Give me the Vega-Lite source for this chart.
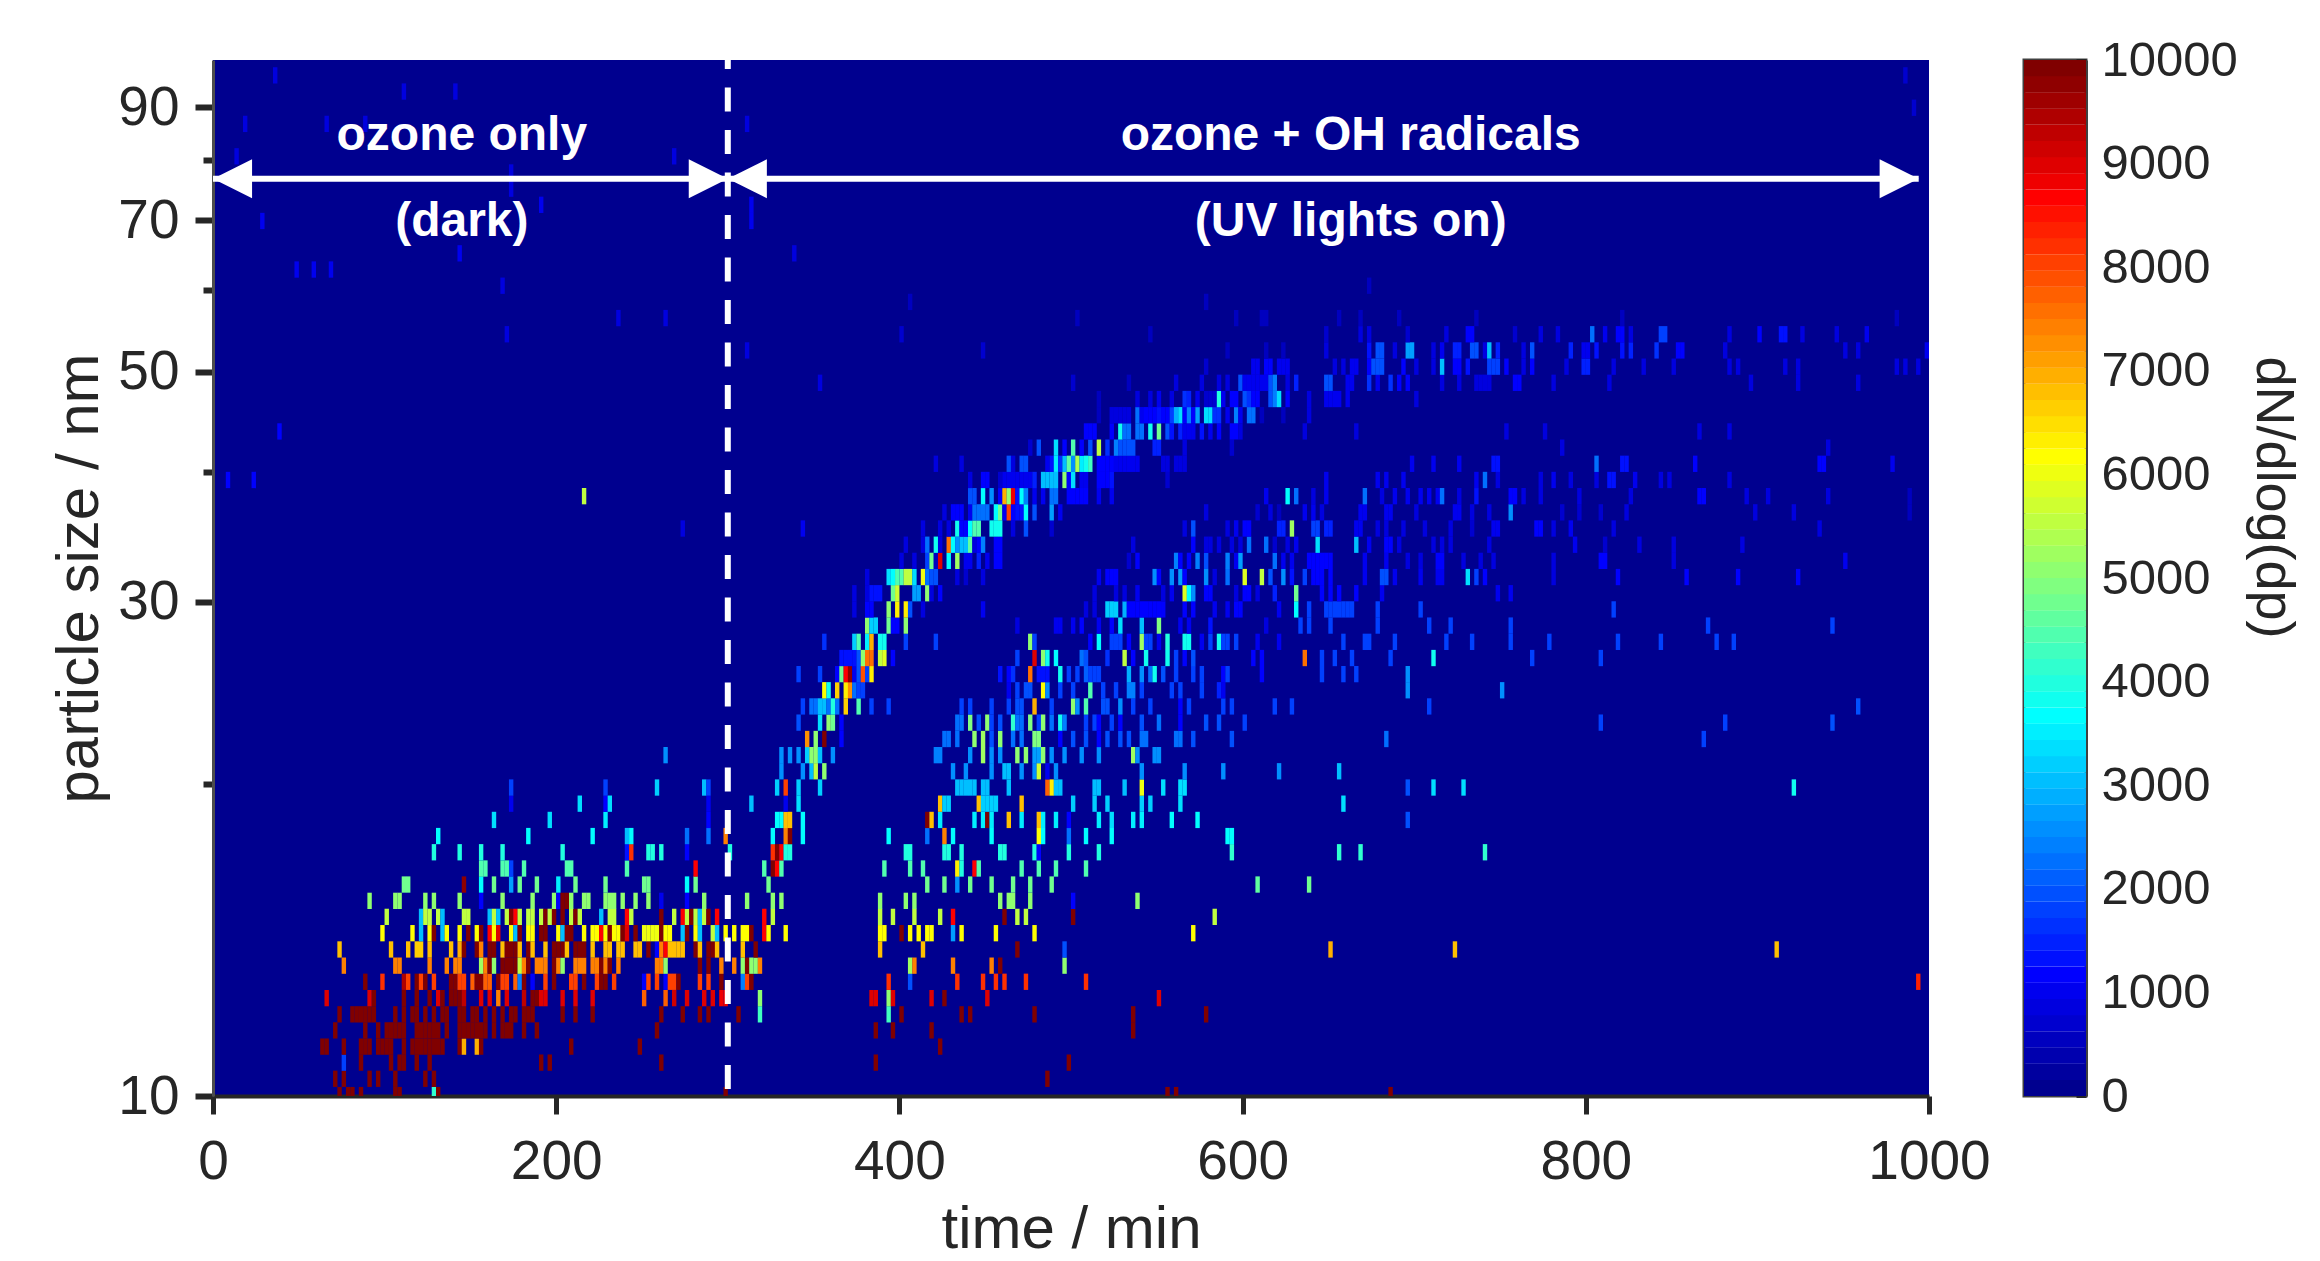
{"$schema":"https://vega.github.io/schema/vega-lite/v6.json","background":"white","padding":{"left":49,"top":34,"right":0,"bottom":0},"config":{"view":{"stroke":null},"axis":{"labelFont":"Liberation Sans","titleFont":"Liberation Sans","labelColor":"#262626","titleColor":"#262626","grid":false}},"datasets":{"cells":[
{"t":73.75,"d":10.02,"v":9950},{"t":78.75,"d":10.02,"v":9950},{"t":81.25,"d":10.02,"v":9950},{"t":86.25,"d":10.02,"v":9950},{"t":106.25,"d":10.02,"v":9950},{"t":108.75,"d":10.02,"v":9950},{"t":128.75,"d":10.02,"v":4200},{"t":131.25,"d":10.02,"v":9950},{"t":298.75,"d":10.02,"v":9950},{"t":556.25,"d":10.02,"v":9950},{"t":561.25,"d":10.02,"v":9950},{"t":686.25,"d":10.02,"v":9950},
{"t":71.25,"d":10.39,"v":9950},{"t":76.25,"d":10.39,"v":9950},{"t":91.25,"d":10.39,"v":9950},{"t":96.25,"d":10.39,"v":9950},{"t":106.25,"d":10.39,"v":9950},{"t":123.75,"d":10.39,"v":9950},{"t":128.75,"d":10.39,"v":9950},{"t":486.25,"d":10.39,"v":9950},
{"t":76.25,"d":10.77,"v":1750},{"t":86.25,"d":10.77,"v":9950},{"t":103.75,"d":10.77,"v":9950},{"t":108.75,"d":10.77,"v":9950},{"t":111.25,"d":10.77,"v":9950},{"t":118.75,"d":10.77,"v":9950},{"t":126.25,"d":10.77,"v":9950},{"t":191.25,"d":10.77,"v":9950},{"t":196.25,"d":10.77,"v":9950},{"t":261.25,"d":10.77,"v":9950},{"t":386.25,"d":10.77,"v":9950},{"t":498.75,"d":10.77,"v":9950},
{"t":63.75,"d":11.16,"v":9950},{"t":66.25,"d":11.16,"v":9950},{"t":76.25,"d":11.16,"v":9950},{"t":86.25,"d":11.16,"v":9950},{"t":88.75,"d":11.16,"v":9950},{"t":91.25,"d":11.16,"v":9950},{"t":96.25,"d":11.16,"v":9950},{"t":98.75,"d":11.16,"v":9950},{"t":101.25,"d":11.16,"v":9950},{"t":103.75,"d":11.16,"v":9950},{"t":111.25,"d":11.16,"v":9950},{"t":116.25,"d":11.16,"v":9950},{"t":118.75,"d":11.16,"v":9950},{"t":121.25,"d":11.16,"v":9950},{"t":123.75,"d":11.16,"v":9950},{"t":126.25,"d":11.16,"v":9950},{"t":128.75,"d":11.16,"v":9950},{"t":131.25,"d":11.16,"v":9950},{"t":133.75,"d":11.16,"v":9950},{"t":143.75,"d":11.16,"v":9950},{"t":146.25,"d":11.16,"v":6900},{"t":153.75,"d":11.16,"v":6900},{"t":156.25,"d":11.16,"v":9950},{"t":208.75,"d":11.16,"v":9950},{"t":248.75,"d":11.16,"v":9950},{"t":423.75,"d":11.16,"v":9950},
{"t":71.25,"d":11.57,"v":9950},{"t":88.75,"d":11.57,"v":9950},{"t":96.25,"d":11.57,"v":9950},{"t":101.25,"d":11.57,"v":9950},{"t":103.75,"d":11.57,"v":9950},{"t":106.25,"d":11.57,"v":9950},{"t":108.75,"d":11.57,"v":9950},{"t":111.25,"d":11.57,"v":9950},{"t":118.75,"d":11.57,"v":9950},{"t":121.25,"d":11.57,"v":9950},{"t":123.75,"d":11.57,"v":9950},{"t":126.25,"d":11.57,"v":9950},{"t":128.75,"d":11.57,"v":9950},{"t":131.25,"d":11.57,"v":9950},{"t":136.25,"d":11.57,"v":9950},{"t":143.75,"d":11.57,"v":9950},{"t":146.25,"d":11.57,"v":9950},{"t":148.75,"d":11.57,"v":9950},{"t":151.25,"d":11.57,"v":9950},{"t":153.75,"d":11.57,"v":9950},{"t":156.25,"d":11.57,"v":9950},{"t":158.75,"d":11.57,"v":9950},{"t":163.75,"d":11.57,"v":9950},{"t":168.75,"d":11.57,"v":9950},{"t":171.25,"d":11.57,"v":9950},{"t":173.75,"d":11.57,"v":9950},{"t":181.25,"d":11.57,"v":9950},{"t":188.75,"d":11.57,"v":9950},{"t":258.75,"d":11.57,"v":9950},{"t":386.25,"d":11.57,"v":9950},{"t":396.25,"d":11.57,"v":9950},{"t":418.75,"d":11.57,"v":9950},{"t":536.25,"d":11.57,"v":9950},
{"t":73.75,"d":11.99,"v":9950},{"t":81.25,"d":11.99,"v":9950},{"t":83.75,"d":11.99,"v":9950},{"t":86.25,"d":11.99,"v":9950},{"t":88.75,"d":11.99,"v":9950},{"t":91.25,"d":11.99,"v":9950},{"t":93.75,"d":11.99,"v":9950},{"t":106.25,"d":11.99,"v":9950},{"t":111.25,"d":11.99,"v":9950},{"t":116.25,"d":11.99,"v":9950},{"t":118.75,"d":11.99,"v":9950},{"t":123.75,"d":11.99,"v":9950},{"t":128.75,"d":11.99,"v":9950},{"t":133.75,"d":11.99,"v":9950},{"t":136.25,"d":11.99,"v":9950},{"t":143.75,"d":11.99,"v":9950},{"t":146.25,"d":11.99,"v":9950},{"t":151.25,"d":11.99,"v":9950},{"t":153.75,"d":11.99,"v":9950},{"t":158.75,"d":11.99,"v":9950},{"t":163.75,"d":11.99,"v":9950},{"t":168.75,"d":11.99,"v":9950},{"t":173.75,"d":11.99,"v":9950},{"t":176.25,"d":11.99,"v":9950},{"t":181.25,"d":11.99,"v":9950},{"t":183.75,"d":11.99,"v":9950},{"t":186.25,"d":11.99,"v":9950},{"t":203.75,"d":11.99,"v":9950},{"t":211.25,"d":11.99,"v":9950},{"t":221.25,"d":11.99,"v":9950},{"t":261.25,"d":11.99,"v":9950},{"t":273.75,"d":11.99,"v":9950},{"t":283.75,"d":11.99,"v":9950},{"t":288.75,"d":11.99,"v":9950},{"t":306.25,"d":11.99,"v":9950},{"t":318.75,"d":11.99,"v":4300},{"t":393.75,"d":11.99,"v":4300},{"t":401.25,"d":11.99,"v":9950},{"t":436.25,"d":11.99,"v":9950},{"t":441.25,"d":11.99,"v":9950},{"t":478.75,"d":11.99,"v":9950},{"t":536.25,"d":11.99,"v":9950},{"t":578.75,"d":11.99,"v":9950},
{"t":66.25,"d":12.43,"v":9000},{"t":91.25,"d":12.43,"v":9000},{"t":93.75,"d":12.43,"v":9950},{"t":111.25,"d":12.43,"v":9950},{"t":118.75,"d":12.43,"v":9950},{"t":126.25,"d":12.43,"v":9950},{"t":131.25,"d":12.43,"v":9000},{"t":133.75,"d":12.43,"v":9950},{"t":138.75,"d":12.43,"v":9950},{"t":141.25,"d":12.43,"v":9950},{"t":143.75,"d":12.43,"v":9950},{"t":146.25,"d":12.43,"v":9300},{"t":156.25,"d":12.43,"v":9000},{"t":161.25,"d":12.43,"v":9000},{"t":166.25,"d":12.43,"v":7400},{"t":171.25,"d":12.43,"v":9000},{"t":181.25,"d":12.43,"v":9300},{"t":186.25,"d":12.43,"v":9950},{"t":188.75,"d":12.43,"v":9950},{"t":191.25,"d":12.43,"v":9000},{"t":193.75,"d":12.43,"v":9000},{"t":203.75,"d":12.43,"v":9000},{"t":211.25,"d":12.43,"v":9000},{"t":221.25,"d":12.43,"v":9000},{"t":251.25,"d":12.43,"v":7700},{"t":263.75,"d":12.43,"v":7700},{"t":268.75,"d":12.43,"v":9200},{"t":276.25,"d":12.43,"v":9000},{"t":286.25,"d":12.43,"v":9000},{"t":291.25,"d":12.43,"v":9000},{"t":296.25,"d":12.43,"v":8900},{"t":298.75,"d":12.43,"v":8900},{"t":318.75,"d":12.43,"v":5000},{"t":383.75,"d":12.43,"v":9000},{"t":386.25,"d":12.43,"v":9000},{"t":393.75,"d":12.43,"v":5000},{"t":396.25,"d":12.43,"v":9000},{"t":418.75,"d":12.43,"v":9000},{"t":426.25,"d":12.43,"v":9950},{"t":451.25,"d":12.43,"v":9000},{"t":551.25,"d":12.43,"v":9000},{"t":993.75,"d":12.89,"v":8300},
{"t":88.75,"d":12.89,"v":9950},{"t":98.75,"d":12.89,"v":8200},{"t":111.25,"d":12.89,"v":9500},{"t":113.75,"d":12.89,"v":8000},{"t":118.75,"d":12.89,"v":9950},{"t":121.25,"d":12.89,"v":8000},{"t":123.75,"d":12.89,"v":9950},{"t":128.75,"d":12.89,"v":8000},{"t":138.75,"d":12.89,"v":9950},{"t":141.25,"d":12.89,"v":9950},{"t":143.75,"d":12.89,"v":8000},{"t":146.25,"d":12.89,"v":8000},{"t":151.25,"d":12.89,"v":7800},{"t":153.75,"d":12.89,"v":9950},{"t":156.25,"d":12.89,"v":9950},{"t":158.75,"d":12.89,"v":7800},{"t":161.25,"d":12.89,"v":7800},{"t":166.25,"d":12.89,"v":9950},{"t":168.75,"d":12.89,"v":8000},{"t":171.25,"d":12.89,"v":8000},{"t":176.25,"d":12.89,"v":7800},{"t":178.75,"d":12.89,"v":2400},{"t":181.25,"d":12.89,"v":9950},{"t":186.25,"d":12.89,"v":1200},{"t":193.75,"d":12.89,"v":8000},{"t":198.75,"d":12.89,"v":9950},{"t":208.75,"d":12.89,"v":8000},{"t":211.25,"d":12.89,"v":8000},{"t":216.25,"d":12.89,"v":9950},{"t":223.75,"d":12.89,"v":8000},{"t":226.25,"d":12.89,"v":9950},{"t":228.75,"d":12.89,"v":9950},{"t":233.75,"d":12.89,"v":8000},{"t":251.25,"d":12.89,"v":1150},{"t":253.75,"d":12.89,"v":8000},{"t":258.75,"d":12.89,"v":8000},{"t":263.75,"d":12.89,"v":1150},{"t":266.25,"d":12.89,"v":8000},{"t":268.75,"d":12.89,"v":8000},{"t":271.25,"d":12.89,"v":9950},{"t":283.75,"d":12.89,"v":8000},{"t":288.75,"d":12.89,"v":8000},{"t":296.25,"d":12.89,"v":9950},{"t":308.75,"d":12.89,"v":2400},{"t":311.25,"d":12.89,"v":8000},{"t":313.75,"d":12.89,"v":9950},{"t":393.75,"d":12.89,"v":8200},{"t":406.25,"d":12.89,"v":1900},{"t":433.75,"d":12.89,"v":8200},{"t":448.75,"d":12.89,"v":8200},{"t":456.25,"d":12.89,"v":8200},{"t":461.25,"d":12.89,"v":8200},{"t":473.75,"d":12.89,"v":8200},{"t":508.75,"d":12.89,"v":8200},
{"t":76.25,"d":13.36,"v":7400},{"t":106.25,"d":13.36,"v":7400},{"t":108.75,"d":13.36,"v":7400},{"t":126.25,"d":13.36,"v":7400},{"t":136.25,"d":13.36,"v":7400},{"t":141.25,"d":13.36,"v":7400},{"t":143.75,"d":13.36,"v":7400},{"t":156.25,"d":13.36,"v":5200},{"t":158.75,"d":13.36,"v":7400},{"t":161.25,"d":13.36,"v":9950},{"t":163.75,"d":13.36,"v":5000},{"t":168.75,"d":13.36,"v":9950},{"t":171.25,"d":13.36,"v":9950},{"t":173.75,"d":13.36,"v":9950},{"t":176.25,"d":13.36,"v":9950},{"t":178.75,"d":13.36,"v":5500},{"t":181.25,"d":13.36,"v":7400},{"t":183.75,"d":13.36,"v":9950},{"t":188.75,"d":13.36,"v":7400},{"t":191.25,"d":13.36,"v":7400},{"t":193.75,"d":13.36,"v":7400},{"t":198.75,"d":13.36,"v":9950},{"t":201.25,"d":13.36,"v":7400},{"t":203.75,"d":13.36,"v":5000},{"t":211.25,"d":13.36,"v":7400},{"t":213.75,"d":13.36,"v":7400},{"t":216.25,"d":13.36,"v":7400},{"t":221.25,"d":13.36,"v":7400},{"t":223.75,"d":13.36,"v":7400},{"t":226.25,"d":13.36,"v":9950},{"t":228.75,"d":13.36,"v":7400},{"t":231.25,"d":13.36,"v":9950},{"t":236.25,"d":13.36,"v":7400},{"t":258.75,"d":13.36,"v":7400},{"t":261.25,"d":13.36,"v":7400},{"t":263.75,"d":13.36,"v":5000},{"t":283.75,"d":13.36,"v":9950},{"t":288.75,"d":13.36,"v":9950},{"t":296.25,"d":13.36,"v":7400},{"t":303.75,"d":13.36,"v":7400},{"t":308.75,"d":13.36,"v":5000},{"t":311.25,"d":13.36,"v":9950},{"t":313.75,"d":13.36,"v":5000},{"t":316.25,"d":13.36,"v":5000},{"t":318.75,"d":13.36,"v":7400},{"t":406.25,"d":13.36,"v":5300},{"t":408.75,"d":13.36,"v":7400},{"t":431.25,"d":13.36,"v":7400},{"t":453.75,"d":13.36,"v":7400},{"t":458.75,"d":13.36,"v":9950},{"t":496.25,"d":13.36,"v":5000},
{"t":73.75,"d":13.85,"v":6800},{"t":103.75,"d":13.85,"v":6800},{"t":113.75,"d":13.85,"v":6800},{"t":118.75,"d":13.85,"v":6600},{"t":121.25,"d":13.85,"v":6600},{"t":126.25,"d":13.85,"v":6800},{"t":138.75,"d":13.85,"v":6800},{"t":143.75,"d":13.85,"v":7000},{"t":146.25,"d":13.85,"v":9950},{"t":153.75,"d":13.85,"v":9950},{"t":156.25,"d":13.85,"v":7400},{"t":161.25,"d":13.85,"v":9950},{"t":163.75,"d":13.85,"v":9950},{"t":168.75,"d":13.85,"v":6800},{"t":171.25,"d":13.85,"v":9950},{"t":173.75,"d":13.85,"v":9950},{"t":176.25,"d":13.85,"v":9950},{"t":178.75,"d":13.85,"v":6800},{"t":183.75,"d":13.85,"v":9950},{"t":186.25,"d":13.85,"v":6800},{"t":193.75,"d":13.85,"v":6800},{"t":198.75,"d":13.85,"v":9950},{"t":201.25,"d":13.85,"v":9950},{"t":203.75,"d":13.85,"v":9950},{"t":206.25,"d":13.85,"v":6800},{"t":211.25,"d":13.85,"v":9950},{"t":213.75,"d":13.85,"v":9950},{"t":216.25,"d":13.85,"v":9950},{"t":221.25,"d":13.85,"v":6800},{"t":228.75,"d":13.85,"v":6800},{"t":231.25,"d":13.85,"v":6800},{"t":236.25,"d":13.85,"v":6800},{"t":238.75,"d":13.85,"v":6800},{"t":246.25,"d":13.85,"v":6800},{"t":248.75,"d":13.85,"v":6800},{"t":253.75,"d":13.85,"v":9950},{"t":258.75,"d":13.85,"v":1150},{"t":261.25,"d":13.85,"v":7400},{"t":263.75,"d":13.85,"v":8700},{"t":266.25,"d":13.85,"v":6800},{"t":268.75,"d":13.85,"v":6800},{"t":271.25,"d":13.85,"v":6800},{"t":273.75,"d":13.85,"v":6800},{"t":281.25,"d":13.85,"v":9950},{"t":283.75,"d":13.85,"v":6800},{"t":288.75,"d":13.85,"v":9950},{"t":291.25,"d":13.85,"v":9950},{"t":293.75,"d":13.85,"v":6800},{"t":308.75,"d":13.85,"v":6800},{"t":316.25,"d":13.85,"v":9950},{"t":388.75,"d":13.85,"v":6800},{"t":413.75,"d":13.85,"v":6800},{"t":468.75,"d":13.85,"v":9950},{"t":496.25,"d":13.85,"v":2000},{"t":651.25,"d":13.85,"v":7000},{"t":723.75,"d":13.85,"v":6800},{"t":911.25,"d":13.85,"v":6800},
{"t":98.75,"d":14.36,"v":6200},{"t":116.25,"d":14.36,"v":6200},{"t":121.25,"d":14.36,"v":3050},{"t":126.25,"d":14.36,"v":6200},{"t":128.75,"d":14.36,"v":9950},{"t":133.75,"d":14.36,"v":3050},{"t":136.25,"d":14.36,"v":6200},{"t":143.75,"d":14.36,"v":6200},{"t":148.75,"d":14.36,"v":9950},{"t":153.75,"d":14.36,"v":6200},{"t":156.25,"d":14.36,"v":9950},{"t":161.25,"d":14.36,"v":8700},{"t":163.75,"d":14.36,"v":6200},{"t":166.25,"d":14.36,"v":9000},{"t":173.75,"d":14.36,"v":6200},{"t":176.25,"d":14.36,"v":3050},{"t":178.75,"d":14.36,"v":9950},{"t":183.75,"d":14.36,"v":6200},{"t":186.25,"d":14.36,"v":6200},{"t":191.25,"d":14.36,"v":9950},{"t":193.75,"d":14.36,"v":9950},{"t":201.25,"d":14.36,"v":6200},{"t":203.75,"d":14.36,"v":3050},{"t":206.25,"d":14.36,"v":9950},{"t":208.75,"d":14.36,"v":9950},{"t":216.25,"d":14.36,"v":6200},{"t":221.25,"d":14.36,"v":6200},{"t":223.75,"d":14.36,"v":6200},{"t":226.25,"d":14.36,"v":8700},{"t":228.75,"d":14.36,"v":6200},{"t":231.25,"d":14.36,"v":9950},{"t":233.75,"d":14.36,"v":6200},{"t":236.25,"d":14.36,"v":6200},{"t":238.75,"d":14.36,"v":9950},{"t":241.25,"d":14.36,"v":9000},{"t":246.25,"d":14.36,"v":9950},{"t":251.25,"d":14.36,"v":6000},{"t":253.75,"d":14.36,"v":6000},{"t":256.25,"d":14.36,"v":6000},{"t":258.75,"d":14.36,"v":6000},{"t":261.25,"d":14.36,"v":9950},{"t":263.75,"d":14.36,"v":6200},{"t":266.25,"d":14.36,"v":6200},{"t":273.75,"d":14.36,"v":3050},{"t":276.25,"d":14.36,"v":9950},{"t":281.25,"d":14.36,"v":6200},{"t":283.75,"d":14.36,"v":3050},{"t":291.25,"d":14.36,"v":5500},{"t":293.75,"d":14.36,"v":3050},{"t":298.75,"d":14.36,"v":6200},{"t":303.75,"d":14.36,"v":6200},{"t":308.75,"d":14.36,"v":6200},{"t":311.25,"d":14.36,"v":6200},{"t":313.75,"d":14.36,"v":9950},{"t":321.25,"d":14.36,"v":8700},{"t":323.75,"d":14.36,"v":6200},{"t":333.75,"d":14.36,"v":6200},{"t":388.75,"d":14.36,"v":6200},{"t":391.25,"d":14.36,"v":6200},{"t":401.25,"d":14.36,"v":9950},{"t":406.25,"d":14.36,"v":6200},{"t":411.25,"d":14.36,"v":6200},{"t":416.25,"d":14.36,"v":6200},{"t":418.75,"d":14.36,"v":6200},{"t":431.25,"d":14.36,"v":2800},{"t":436.25,"d":14.36,"v":6200},{"t":456.25,"d":14.36,"v":6200},{"t":478.75,"d":14.36,"v":6200},{"t":571.25,"d":14.36,"v":6200},
{"t":101.25,"d":14.89,"v":5550},{"t":121.25,"d":14.89,"v":3050},{"t":123.75,"d":14.89,"v":5550},{"t":126.25,"d":14.89,"v":5550},{"t":131.25,"d":14.89,"v":5550},{"t":133.75,"d":14.89,"v":3050},{"t":146.25,"d":14.89,"v":5550},{"t":148.75,"d":14.89,"v":5550},{"t":161.25,"d":14.89,"v":3050},{"t":163.75,"d":14.89,"v":5550},{"t":166.25,"d":14.89,"v":3050},{"t":171.25,"d":14.89,"v":5550},{"t":173.75,"d":14.89,"v":9950},{"t":176.25,"d":14.89,"v":8700},{"t":178.75,"d":14.89,"v":5550},{"t":183.75,"d":14.89,"v":5550},{"t":186.25,"d":14.89,"v":5550},{"t":191.25,"d":14.89,"v":5550},{"t":193.75,"d":14.89,"v":9950},{"t":196.25,"d":14.89,"v":5550},{"t":198.75,"d":14.89,"v":9950},{"t":203.75,"d":14.89,"v":9950},{"t":208.75,"d":14.89,"v":5550},{"t":211.25,"d":14.89,"v":9950},{"t":213.75,"d":14.89,"v":5550},{"t":226.25,"d":14.89,"v":3050},{"t":231.25,"d":14.89,"v":5550},{"t":233.75,"d":14.89,"v":5550},{"t":241.25,"d":14.89,"v":8700},{"t":243.75,"d":14.89,"v":5550},{"t":261.25,"d":14.89,"v":9950},{"t":268.75,"d":14.89,"v":5550},{"t":273.75,"d":14.89,"v":8700},{"t":276.25,"d":14.89,"v":5550},{"t":278.75,"d":14.89,"v":9950},{"t":281.25,"d":14.89,"v":5550},{"t":283.75,"d":14.89,"v":3050},{"t":286.25,"d":14.89,"v":5550},{"t":288.75,"d":14.89,"v":9950},{"t":293.75,"d":14.89,"v":8700},{"t":321.25,"d":14.89,"v":8700},{"t":326.25,"d":14.89,"v":5550},{"t":388.75,"d":14.89,"v":5550},{"t":396.25,"d":14.89,"v":5550},{"t":408.75,"d":14.89,"v":5550},{"t":423.75,"d":14.89,"v":5550},{"t":431.25,"d":14.89,"v":8700},{"t":461.25,"d":14.89,"v":9950},{"t":468.75,"d":14.89,"v":5550},{"t":473.75,"d":14.89,"v":5550},{"t":501.25,"d":14.89,"v":9950},{"t":583.75,"d":14.89,"v":5500},
{"t":91.25,"d":15.43,"v":5000},{"t":106.25,"d":15.43,"v":5000},{"t":108.75,"d":15.43,"v":5000},{"t":123.75,"d":15.43,"v":5000},{"t":128.75,"d":15.43,"v":5000},{"t":143.75,"d":15.43,"v":5000},{"t":156.25,"d":15.43,"v":1150},{"t":168.75,"d":15.43,"v":5000},{"t":186.25,"d":15.43,"v":5000},{"t":198.75,"d":15.43,"v":5000},{"t":201.25,"d":15.43,"v":1200},{"t":203.75,"d":15.43,"v":9950},{"t":206.25,"d":15.43,"v":9950},{"t":208.75,"d":15.43,"v":5000},{"t":216.25,"d":15.43,"v":5000},{"t":218.75,"d":15.43,"v":5000},{"t":228.75,"d":15.43,"v":5000},{"t":231.25,"d":15.43,"v":5000},{"t":233.75,"d":15.43,"v":5000},{"t":238.75,"d":15.43,"v":5000},{"t":246.25,"d":15.43,"v":5000},{"t":253.75,"d":15.43,"v":5000},{"t":261.25,"d":15.43,"v":1000},{"t":276.25,"d":15.43,"v":1150},{"t":286.25,"d":15.43,"v":5000},{"t":311.25,"d":15.43,"v":5000},{"t":326.25,"d":15.43,"v":5000},{"t":331.25,"d":15.43,"v":5000},{"t":388.75,"d":15.43,"v":5000},{"t":403.75,"d":15.43,"v":5000},{"t":408.75,"d":15.43,"v":5000},{"t":458.75,"d":15.43,"v":5000},{"t":463.75,"d":15.43,"v":5000},{"t":466.25,"d":15.43,"v":5000},{"t":476.25,"d":15.43,"v":5000},{"t":501.25,"d":15.43,"v":1150},{"t":538.75,"d":15.43,"v":5000},
{"t":111.25,"d":16,"v":4700},{"t":113.75,"d":16,"v":4700},{"t":146.25,"d":16,"v":9700},{"t":156.25,"d":16,"v":3700},{"t":163.75,"d":16,"v":4700},{"t":173.75,"d":16,"v":2800},{"t":178.75,"d":16,"v":4700},{"t":188.75,"d":16,"v":4700},{"t":201.25,"d":16,"v":3500},{"t":211.25,"d":16,"v":4700},{"t":228.75,"d":16,"v":4700},{"t":251.25,"d":16,"v":4700},{"t":253.75,"d":16,"v":4700},{"t":276.25,"d":16,"v":3700},{"t":281.25,"d":16,"v":4700},{"t":323.75,"d":16,"v":4700},{"t":416.25,"d":16,"v":4700},{"t":426.25,"d":16,"v":4700},{"t":433.75,"d":16,"v":2500},{"t":441.25,"d":16,"v":4700},{"t":453.75,"d":16,"v":4700},{"t":466.25,"d":16,"v":4700},{"t":476.25,"d":16,"v":4700},{"t":488.75,"d":16,"v":4700},{"t":608.75,"d":16,"v":4600},{"t":638.75,"d":16,"v":4700},
{"t":156.25,"d":16.58,"v":4400},{"t":158.75,"d":16.58,"v":4400},{"t":168.75,"d":16.58,"v":4400},{"t":171.25,"d":16.58,"v":4400},{"t":173.75,"d":16.58,"v":1750},{"t":181.25,"d":16.58,"v":4400},{"t":206.25,"d":16.58,"v":4400},{"t":208.75,"d":16.58,"v":4400},{"t":241.25,"d":16.58,"v":4400},{"t":281.25,"d":16.58,"v":8700},{"t":321.25,"d":16.58,"v":4400},{"t":326.25,"d":16.58,"v":9950},{"t":328.75,"d":16.58,"v":8700},{"t":331.25,"d":16.58,"v":4400},{"t":391.25,"d":16.58,"v":4400},{"t":406.25,"d":16.58,"v":4400},{"t":413.75,"d":16.58,"v":4400},{"t":433.75,"d":16.58,"v":6300},{"t":436.25,"d":16.58,"v":4000},{"t":443.75,"d":16.58,"v":8700},{"t":446.25,"d":16.58,"v":4400},{"t":471.25,"d":16.58,"v":4400},{"t":481.25,"d":16.58,"v":4400},{"t":491.25,"d":16.58,"v":4400},{"t":508.75,"d":16.58,"v":4400},
{"t":128.75,"d":17.19,"v":4000},{"t":143.75,"d":17.19,"v":4000},{"t":156.25,"d":17.19,"v":4000},{"t":168.75,"d":17.19,"v":4000},{"t":203.75,"d":17.19,"v":4000},{"t":241.25,"d":17.19,"v":1400},{"t":243.75,"d":17.19,"v":8200},{"t":253.75,"d":17.19,"v":4000},{"t":256.25,"d":17.19,"v":4000},{"t":261.25,"d":17.19,"v":4000},{"t":276.25,"d":17.19,"v":1150},{"t":301.25,"d":17.19,"v":4000},{"t":326.25,"d":17.19,"v":8200},{"t":328.75,"d":17.19,"v":9950},{"t":331.25,"d":17.19,"v":8700},{"t":333.75,"d":17.19,"v":4000},{"t":336.25,"d":17.19,"v":4000},{"t":403.75,"d":17.19,"v":4000},{"t":406.25,"d":17.19,"v":4000},{"t":426.25,"d":17.19,"v":4000},{"t":428.75,"d":17.19,"v":4000},{"t":436.25,"d":17.19,"v":4000},{"t":458.75,"d":17.19,"v":4000},{"t":461.25,"d":17.19,"v":4000},{"t":478.75,"d":17.19,"v":4000},{"t":481.25,"d":17.19,"v":1150},{"t":498.75,"d":17.19,"v":4000},{"t":516.25,"d":17.19,"v":4000},{"t":593.75,"d":17.19,"v":4200},{"t":656.25,"d":17.19,"v":4200},{"t":668.75,"d":17.19,"v":4200},{"t":741.25,"d":17.19,"v":4200},
{"t":131.25,"d":17.82,"v":3700},{"t":183.75,"d":17.82,"v":3700},{"t":221.25,"d":17.82,"v":3700},{"t":241.25,"d":17.82,"v":3050},{"t":243.75,"d":17.82,"v":3700},{"t":276.25,"d":17.82,"v":2300},{"t":288.75,"d":17.82,"v":2300},{"t":298.75,"d":17.82,"v":7400},{"t":326.25,"d":17.82,"v":3700},{"t":333.75,"d":17.82,"v":7400},{"t":336.25,"d":17.82,"v":9950},{"t":343.75,"d":17.82,"v":3700},{"t":393.75,"d":17.82,"v":3700},{"t":416.25,"d":17.82,"v":2300},{"t":426.25,"d":17.82,"v":7400},{"t":431.25,"d":17.82,"v":3700},{"t":453.75,"d":17.82,"v":3700},{"t":481.25,"d":17.82,"v":6200},{"t":483.75,"d":17.82,"v":3700},{"t":498.75,"d":17.82,"v":2200},{"t":508.75,"d":17.82,"v":3700},{"t":523.75,"d":17.82,"v":3700},{"t":591.25,"d":17.82,"v":3700},{"t":593.75,"d":17.82,"v":3700},
{"t":163.75,"d":18.47,"v":3400},{"t":196.25,"d":18.47,"v":3400},{"t":228.75,"d":18.47,"v":3500},{"t":288.75,"d":18.47,"v":1100},{"t":328.75,"d":18.47,"v":3700},{"t":331.25,"d":18.47,"v":3700},{"t":333.75,"d":18.47,"v":6800},{"t":336.25,"d":18.47,"v":6800},{"t":343.75,"d":18.47,"v":3700},{"t":416.25,"d":18.47,"v":9950},{"t":418.75,"d":18.47,"v":6800},{"t":423.75,"d":18.47,"v":3500},{"t":443.75,"d":18.47,"v":3500},{"t":448.75,"d":18.47,"v":3500},{"t":451.25,"d":18.47,"v":9950},{"t":453.75,"d":18.47,"v":3500},{"t":463.75,"d":18.47,"v":6800},{"t":471.25,"d":18.47,"v":3500},{"t":481.25,"d":18.47,"v":6800},{"t":483.75,"d":18.47,"v":3500},{"t":491.25,"d":18.47,"v":3500},{"t":498.75,"d":18.47,"v":1100},{"t":516.25,"d":18.47,"v":3500},{"t":523.75,"d":18.47,"v":3300},{"t":536.25,"d":18.47,"v":3500},{"t":541.25,"d":18.47,"v":3500},{"t":558.75,"d":18.47,"v":3700},{"t":573.75,"d":18.47,"v":3700},{"t":696.25,"d":18.47,"v":2000},
{"t":173.75,"d":19.15,"v":1000},{"t":213.75,"d":19.15,"v":3300},{"t":228.75,"d":19.15,"v":1200},{"t":231.25,"d":19.15,"v":3300},{"t":288.75,"d":19.15,"v":1000},{"t":313.75,"d":19.15,"v":3100},{"t":333.75,"d":19.15,"v":1000},{"t":341.25,"d":19.15,"v":3300},{"t":423.75,"d":19.15,"v":6800},{"t":426.25,"d":19.15,"v":3200},{"t":428.75,"d":19.15,"v":3200},{"t":446.25,"d":19.15,"v":6800},{"t":448.75,"d":19.15,"v":3200},{"t":451.25,"d":19.15,"v":3200},{"t":453.75,"d":19.15,"v":3200},{"t":456.25,"d":19.15,"v":3200},{"t":471.25,"d":19.15,"v":6800},{"t":501.25,"d":19.15,"v":3200},{"t":513.75,"d":19.15,"v":3200},{"t":521.25,"d":19.15,"v":3200},{"t":541.25,"d":19.15,"v":3200},{"t":546.25,"d":19.15,"v":3200},{"t":563.75,"d":19.15,"v":3300},{"t":658.75,"d":19.15,"v":3300},
{"t":173.75,"d":19.85,"v":1800},{"t":228.75,"d":19.85,"v":1800},{"t":258.75,"d":19.85,"v":3200},{"t":286.25,"d":19.85,"v":3000},{"t":288.75,"d":19.85,"v":1800},{"t":328.75,"d":19.85,"v":3200},{"t":333.75,"d":19.85,"v":8000},{"t":341.25,"d":19.85,"v":3200},{"t":353.75,"d":19.85,"v":3200},{"t":433.75,"d":19.85,"v":3100},{"t":436.25,"d":19.85,"v":3100},{"t":438.75,"d":19.85,"v":3100},{"t":441.25,"d":19.85,"v":3100},{"t":443.75,"d":19.85,"v":3100},{"t":448.75,"d":19.85,"v":3100},{"t":451.25,"d":19.85,"v":3100},{"t":463.75,"d":19.85,"v":3100},{"t":486.25,"d":19.85,"v":7700},{"t":488.75,"d":19.85,"v":6300},{"t":491.25,"d":19.85,"v":3100},{"t":493.75,"d":19.85,"v":3100},{"t":513.75,"d":19.85,"v":3100},{"t":516.25,"d":19.85,"v":3100},{"t":531.25,"d":19.85,"v":3100},{"t":541.25,"d":19.85,"v":6000},{"t":553.75,"d":19.85,"v":3300},{"t":563.75,"d":19.85,"v":3300},{"t":566.25,"d":19.85,"v":3300},{"t":696.25,"d":19.85,"v":2000},{"t":711.25,"d":19.85,"v":3300},{"t":728.75,"d":19.85,"v":3300},{"t":921.25,"d":19.85,"v":3900},
{"t":331.25,"d":20.58,"v":2500},{"t":343.75,"d":20.58,"v":2500},{"t":348.75,"d":20.58,"v":3000},{"t":351.25,"d":20.58,"v":5500},{"t":356.25,"d":20.58,"v":5000},{"t":431.25,"d":20.58,"v":2500},{"t":438.75,"d":20.58,"v":2500},{"t":453.75,"d":20.58,"v":2500},{"t":461.25,"d":20.58,"v":3000},{"t":463.75,"d":20.58,"v":3000},{"t":471.25,"d":20.58,"v":2500},{"t":478.75,"d":20.58,"v":2500},{"t":481.25,"d":20.58,"v":5700},{"t":486.25,"d":20.58,"v":1000},{"t":491.25,"d":20.58,"v":2500},{"t":541.25,"d":20.58,"v":2500},{"t":566.25,"d":20.58,"v":2500},{"t":588.75,"d":20.58,"v":2500},{"t":621.25,"d":20.58,"v":2500},{"t":656.25,"d":20.58,"v":3000},
{"t":263.75,"d":21.33,"v":2500},{"t":331.25,"d":21.33,"v":2500},{"t":336.25,"d":21.33,"v":2500},{"t":341.25,"d":21.33,"v":2500},{"t":346.25,"d":21.33,"v":3200},{"t":348.75,"d":21.33,"v":5000},{"t":351.25,"d":21.33,"v":5000},{"t":353.75,"d":21.33,"v":3000},{"t":361.25,"d":21.33,"v":2500},{"t":421.25,"d":21.33,"v":2400},{"t":423.75,"d":21.33,"v":2400},{"t":441.25,"d":21.33,"v":2500},{"t":448.75,"d":21.33,"v":5200},{"t":453.75,"d":21.33,"v":2500},{"t":458.75,"d":21.33,"v":2500},{"t":468.75,"d":21.33,"v":5000},{"t":473.75,"d":21.33,"v":5100},{"t":478.75,"d":21.33,"v":2700},{"t":481.25,"d":21.33,"v":2700},{"t":483.75,"d":21.33,"v":5000},{"t":488.75,"d":21.33,"v":2500},{"t":496.25,"d":21.33,"v":2500},{"t":506.25,"d":21.33,"v":2500},{"t":516.25,"d":21.33,"v":2500},{"t":536.25,"d":21.33,"v":5300},{"t":538.75,"d":21.33,"v":2500},{"t":548.75,"d":21.33,"v":2600},{"t":551.25,"d":21.33,"v":2600},
{"t":346.25,"d":22.11,"v":7300},{"t":351.25,"d":22.11,"v":5000},{"t":356.25,"d":22.11,"v":9900},{"t":366.25,"d":22.11,"v":1100},{"t":426.25,"d":22.11,"v":2300},{"t":428.75,"d":22.11,"v":2300},{"t":433.75,"d":22.11,"v":2200},{"t":443.75,"d":22.11,"v":5000},{"t":448.75,"d":22.11,"v":5200},{"t":453.75,"d":22.11,"v":2000},{"t":458.75,"d":22.11,"v":5000},{"t":466.25,"d":22.11,"v":2300},{"t":471.25,"d":22.11,"v":2300},{"t":478.75,"d":22.11,"v":4900},{"t":481.25,"d":22.11,"v":4900},{"t":493.75,"d":22.11,"v":1200},{"t":501.25,"d":22.11,"v":2000},{"t":508.75,"d":22.11,"v":2000},{"t":516.25,"d":22.11,"v":1100},{"t":521.25,"d":22.11,"v":2000},{"t":528.75,"d":22.11,"v":2000},{"t":533.75,"d":22.11,"v":2000},{"t":541.25,"d":22.11,"v":2200},{"t":543.75,"d":22.11,"v":2200},{"t":561.25,"d":22.11,"v":2200},{"t":563.75,"d":22.11,"v":2200},{"t":571.25,"d":22.11,"v":2000},{"t":593.75,"d":22.11,"v":2000},{"t":683.75,"d":22.11,"v":2200},{"t":868.75,"d":22.11,"v":1800},
{"t":341.25,"d":22.93,"v":2000},{"t":353.75,"d":22.93,"v":3300},{"t":358.75,"d":22.93,"v":5000},{"t":361.25,"d":22.93,"v":4800},{"t":366.25,"d":22.93,"v":1100},{"t":433.75,"d":22.93,"v":2300},{"t":436.25,"d":22.93,"v":2300},{"t":441.25,"d":22.93,"v":4900},{"t":446.25,"d":22.93,"v":2000},{"t":451.25,"d":22.93,"v":5000},{"t":453.75,"d":22.93,"v":1800},{"t":458.75,"d":22.93,"v":2000},{"t":466.25,"d":22.93,"v":4200},{"t":468.75,"d":22.93,"v":2300},{"t":471.25,"d":22.93,"v":2300},{"t":476.25,"d":22.93,"v":4900},{"t":481.25,"d":22.93,"v":1800},{"t":483.75,"d":22.93,"v":5000},{"t":488.75,"d":22.93,"v":2200},{"t":493.75,"d":22.93,"v":3800},{"t":496.25,"d":22.93,"v":2400},{"t":508.75,"d":22.93,"v":1800},{"t":513.75,"d":22.93,"v":1800},{"t":516.25,"d":22.93,"v":1100},{"t":523.75,"d":22.93,"v":1800},{"t":528.75,"d":22.93,"v":1100},{"t":541.25,"d":22.93,"v":2000},{"t":551.25,"d":22.93,"v":2200},{"t":563.75,"d":22.93,"v":1200},{"t":578.75,"d":22.93,"v":2000},{"t":586.25,"d":22.93,"v":2000},{"t":601.25,"d":22.93,"v":1800},{"t":808.75,"d":22.93,"v":1800},{"t":881.25,"d":22.93,"v":1800},{"t":943.75,"d":22.93,"v":2000},
{"t":343.75,"d":23.77,"v":1800},{"t":348.75,"d":23.77,"v":2300},{"t":351.25,"d":23.77,"v":2300},{"t":353.75,"d":23.77,"v":3000},{"t":356.25,"d":23.77,"v":3000},{"t":358.75,"d":23.77,"v":2300},{"t":361.25,"d":23.77,"v":4000},{"t":363.75,"d":23.77,"v":2300},{"t":368.75,"d":23.77,"v":6700},{"t":376.25,"d":23.77,"v":4500},{"t":383.75,"d":23.77,"v":1800},{"t":393.75,"d":23.77,"v":1800},{"t":436.25,"d":23.77,"v":1800},{"t":441.25,"d":23.77,"v":1800},{"t":453.75,"d":23.77,"v":1800},{"t":463.75,"d":23.77,"v":1800},{"t":468.75,"d":23.77,"v":2000},{"t":471.25,"d":23.77,"v":2000},{"t":478.75,"d":23.77,"v":7000},{"t":488.75,"d":23.77,"v":1800},{"t":501.25,"d":23.77,"v":5000},{"t":503.75,"d":23.77,"v":2500},{"t":508.75,"d":23.77,"v":4500},{"t":518.75,"d":23.77,"v":2000},{"t":521.25,"d":23.77,"v":2000},{"t":528.75,"d":23.77,"v":2500},{"t":536.25,"d":23.77,"v":1800},{"t":546.25,"d":23.77,"v":1800},{"t":563.75,"d":23.77,"v":1100},{"t":568.75,"d":23.77,"v":1800},{"t":588.75,"d":23.77,"v":1800},{"t":593.75,"d":23.77,"v":1800},{"t":618.75,"d":23.77,"v":1800},{"t":628.75,"d":23.77,"v":1800},{"t":708.75,"d":23.77,"v":1800},{"t":958.75,"d":23.77,"v":2000},
{"t":356.25,"d":24.64,"v":6200},{"t":358.75,"d":24.64,"v":3900},{"t":363.75,"d":24.64,"v":6700},{"t":368.75,"d":24.64,"v":6300},{"t":371.25,"d":24.64,"v":7300},{"t":373.75,"d":24.64,"v":2300},{"t":376.25,"d":24.64,"v":1800},{"t":378.75,"d":24.64,"v":1800},{"t":463.75,"d":24.64,"v":1000},{"t":468.75,"d":24.64,"v":1800},{"t":473.75,"d":24.64,"v":2000},{"t":476.25,"d":24.64,"v":2000},{"t":483.75,"d":24.64,"v":6200},{"t":486.25,"d":24.64,"v":2500},{"t":493.75,"d":24.64,"v":1800},{"t":501.25,"d":24.64,"v":1800},{"t":511.25,"d":24.64,"v":4500},{"t":518.75,"d":24.64,"v":1800},{"t":526.25,"d":24.64,"v":1800},{"t":533.75,"d":24.64,"v":2400},{"t":536.25,"d":24.64,"v":2400},{"t":541.25,"d":24.64,"v":1800},{"t":558.75,"d":24.64,"v":1800},{"t":563.75,"d":24.64,"v":1800},{"t":576.25,"d":24.64,"v":1800},{"t":586.25,"d":24.64,"v":1500},{"t":588.75,"d":24.64,"v":1000},{"t":696.25,"d":24.64,"v":2500},{"t":751.25,"d":24.64,"v":2500},
{"t":341.25,"d":25.54,"v":1800},{"t":353.75,"d":25.54,"v":1800},{"t":363.75,"d":25.54,"v":1200},{"t":366.25,"d":25.54,"v":4700},{"t":368.75,"d":25.54,"v":8700},{"t":371.25,"d":25.54,"v":9700},{"t":373.75,"d":25.54,"v":1000},{"t":376.25,"d":25.54,"v":1900},{"t":378.75,"d":25.54,"v":7900},{"t":381.25,"d":25.54,"v":1800},{"t":383.75,"d":25.54,"v":6300},{"t":458.75,"d":25.54,"v":1400},{"t":463.75,"d":25.54,"v":1200},{"t":466.25,"d":25.54,"v":1700},{"t":476.25,"d":25.54,"v":7500},{"t":481.25,"d":25.54,"v":1400},{"t":483.75,"d":25.54,"v":1400},{"t":486.25,"d":25.54,"v":1400},{"t":493.75,"d":25.54,"v":3800},{"t":498.75,"d":25.54,"v":1800},{"t":503.75,"d":25.54,"v":1800},{"t":508.75,"d":25.54,"v":2100},{"t":511.25,"d":25.54,"v":1800},{"t":513.75,"d":25.54,"v":1800},{"t":516.25,"d":25.54,"v":1800},{"t":533.75,"d":25.54,"v":2900},{"t":541.25,"d":25.54,"v":2500},{"t":546.25,"d":25.54,"v":2200},{"t":548.75,"d":25.54,"v":3800},{"t":553.75,"d":25.54,"v":2000},{"t":561.25,"d":25.54,"v":1800},{"t":571.25,"d":25.54,"v":1800},{"t":576.25,"d":25.54,"v":1800},{"t":588.75,"d":25.54,"v":1200},{"t":591.25,"d":25.54,"v":1800},{"t":611.25,"d":25.54,"v":1200},{"t":646.25,"d":25.54,"v":1800},{"t":658.75,"d":25.54,"v":1800},{"t":666.25,"d":25.54,"v":1800},{"t":696.25,"d":25.54,"v":2500},
{"t":366.25,"d":26.47,"v":1300},{"t":368.75,"d":26.47,"v":1300},{"t":371.25,"d":26.47,"v":1300},{"t":373.75,"d":26.47,"v":1300},{"t":376.25,"d":26.47,"v":1900},{"t":378.75,"d":26.47,"v":5000},{"t":381.25,"d":26.47,"v":7500},{"t":383.75,"d":26.47,"v":7500},{"t":388.75,"d":26.47,"v":5600},{"t":391.25,"d":26.47,"v":5800},{"t":396.25,"d":26.47,"v":1100},{"t":468.75,"d":26.47,"v":1800},{"t":478.75,"d":26.47,"v":9000},{"t":483.75,"d":26.47,"v":5100},{"t":486.25,"d":26.47,"v":3900},{"t":491.25,"d":26.47,"v":3700},{"t":506.25,"d":26.47,"v":2200},{"t":508.75,"d":26.47,"v":2000},{"t":521.25,"d":26.47,"v":1700},{"t":531.25,"d":26.47,"v":5500},{"t":536.25,"d":26.47,"v":1100},{"t":543.75,"d":26.47,"v":3800},{"t":556.25,"d":26.47,"v":3900},{"t":561.25,"d":26.47,"v":1800},{"t":566.25,"d":26.47,"v":1100},{"t":571.25,"d":26.47,"v":1900},{"t":606.25,"d":26.47,"v":1100},{"t":611.25,"d":26.47,"v":1100},{"t":636.25,"d":26.47,"v":7500},{"t":646.25,"d":26.47,"v":1800},{"t":653.75,"d":26.47,"v":1800},{"t":663.75,"d":26.47,"v":1800},{"t":686.25,"d":26.47,"v":1800},{"t":711.25,"d":26.47,"v":3800},{"t":768.75,"d":26.47,"v":1800},{"t":808.75,"d":26.47,"v":1800},
{"t":356.25,"d":27.44,"v":1700},{"t":373.75,"d":27.44,"v":3200},{"t":376.25,"d":27.44,"v":4400},{"t":381.25,"d":27.44,"v":3500},{"t":383.75,"d":27.44,"v":6900},{"t":388.75,"d":27.44,"v":3800},{"t":391.25,"d":27.44,"v":3800},{"t":403.75,"d":27.44,"v":1800},{"t":421.25,"d":27.44,"v":1800},{"t":476.25,"d":27.44,"v":5000},{"t":478.75,"d":27.44,"v":1800},{"t":511.25,"d":27.44,"v":1100},{"t":516.25,"d":27.44,"v":3700},{"t":523.75,"d":27.44,"v":1800},{"t":526.25,"d":27.44,"v":1800},{"t":528.75,"d":27.44,"v":1800},{"t":533.75,"d":27.44,"v":1100},{"t":541.25,"d":27.44,"v":5200},{"t":543.75,"d":27.44,"v":1800},{"t":546.25,"d":27.44,"v":1800},{"t":551.25,"d":27.44,"v":1000},{"t":556.25,"d":27.44,"v":4000},{"t":566.25,"d":27.44,"v":3800},{"t":568.75,"d":27.44,"v":3800},{"t":576.25,"d":27.44,"v":1000},{"t":581.25,"d":27.44,"v":1800},{"t":586.25,"d":27.44,"v":3800},{"t":588.75,"d":27.44,"v":1800},{"t":591.25,"d":27.44,"v":1800},{"t":596.25,"d":27.44,"v":1800},{"t":608.75,"d":27.44,"v":1000},{"t":621.25,"d":27.44,"v":1000},{"t":658.75,"d":27.44,"v":1800},{"t":671.25,"d":27.44,"v":1800},{"t":673.75,"d":27.44,"v":1800},{"t":688.75,"d":27.44,"v":1800},{"t":718.75,"d":27.44,"v":1800},{"t":733.75,"d":27.44,"v":1800},{"t":756.25,"d":27.44,"v":1800},{"t":778.75,"d":27.44,"v":1800},{"t":818.75,"d":27.44,"v":1800},{"t":843.75,"d":27.44,"v":1800},{"t":876.25,"d":27.44,"v":1800},{"t":886.25,"d":27.44,"v":1800},
{"t":381.25,"d":28.45,"v":5000},{"t":383.75,"d":28.45,"v":3200},{"t":386.25,"d":28.45,"v":3200},{"t":393.75,"d":28.45,"v":4800},{"t":396.25,"d":28.45,"v":1100},{"t":398.75,"d":28.45,"v":1100},{"t":403.75,"d":28.45,"v":5100},{"t":468.75,"d":28.45,"v":900},{"t":491.25,"d":28.45,"v":1000},{"t":493.75,"d":28.45,"v":1000},{"t":501.25,"d":28.45,"v":1000},{"t":506.25,"d":28.45,"v":1100},{"t":516.25,"d":28.45,"v":1000},{"t":523.75,"d":28.45,"v":1100},{"t":528.75,"d":28.45,"v":3300},{"t":541.25,"d":28.45,"v":3000},{"t":551.25,"d":28.45,"v":4900},{"t":563.75,"d":28.45,"v":1000},{"t":568.75,"d":28.45,"v":1000},{"t":581.25,"d":28.45,"v":1300},{"t":613.75,"d":28.45,"v":900},{"t":633.75,"d":28.45,"v":1800},{"t":638.75,"d":28.45,"v":1800},{"t":651.25,"d":28.45,"v":1800},{"t":678.75,"d":28.45,"v":1800},{"t":708.75,"d":28.45,"v":1800},{"t":721.25,"d":28.45,"v":1800},{"t":756.25,"d":28.45,"v":1800},{"t":871.25,"d":28.45,"v":1800},{"t":943.75,"d":28.45,"v":1800},
{"t":373.75,"d":29.49,"v":900},{"t":381.25,"d":29.49,"v":1100},{"t":383.75,"d":29.49,"v":1100},{"t":393.75,"d":29.49,"v":5000},{"t":398.75,"d":29.49,"v":6400},{"t":403.75,"d":29.49,"v":6400},{"t":406.25,"d":29.49,"v":2000},{"t":413.75,"d":29.49,"v":900},{"t":448.75,"d":29.49,"v":1000},{"t":508.75,"d":29.49,"v":900},{"t":513.75,"d":29.49,"v":900},{"t":521.25,"d":29.49,"v":3200},{"t":523.75,"d":29.49,"v":3200},{"t":526.25,"d":29.49,"v":3200},{"t":531.25,"d":29.49,"v":2900},{"t":533.75,"d":29.49,"v":1200},{"t":536.25,"d":29.49,"v":1200},{"t":538.75,"d":29.49,"v":1200},{"t":541.25,"d":29.49,"v":1200},{"t":543.75,"d":29.49,"v":1200},{"t":546.25,"d":29.49,"v":1200},{"t":548.75,"d":29.49,"v":1200},{"t":551.25,"d":29.49,"v":1200},{"t":553.75,"d":29.49,"v":1200},{"t":566.25,"d":29.49,"v":1200},{"t":571.25,"d":29.49,"v":1100},{"t":583.75,"d":29.49,"v":1000},{"t":591.25,"d":29.49,"v":1000},{"t":596.25,"d":29.49,"v":1100},{"t":598.75,"d":29.49,"v":1100},{"t":621.25,"d":29.49,"v":1000},{"t":631.25,"d":29.49,"v":3700},{"t":638.75,"d":29.49,"v":1800},{"t":648.75,"d":29.49,"v":1800},{"t":651.25,"d":29.49,"v":1800},{"t":653.75,"d":29.49,"v":1800},{"t":656.25,"d":29.49,"v":1800},{"t":658.75,"d":29.49,"v":1800},{"t":661.25,"d":29.49,"v":1800},{"t":663.75,"d":29.49,"v":1800},{"t":678.75,"d":29.49,"v":1800},{"t":703.75,"d":29.49,"v":1800},{"t":816.25,"d":29.49,"v":1800},
{"t":373.75,"d":30.57,"v":900},{"t":381.25,"d":30.57,"v":900},{"t":383.75,"d":30.57,"v":1300},{"t":386.25,"d":30.57,"v":1300},{"t":388.75,"d":30.57,"v":1300},{"t":396.25,"d":30.57,"v":4700},{"t":398.75,"d":30.57,"v":5700},{"t":408.75,"d":30.57,"v":2800},{"t":411.25,"d":30.57,"v":2800},{"t":416.25,"d":30.57,"v":5000},{"t":418.75,"d":30.57,"v":900},{"t":423.75,"d":30.57,"v":1100},{"t":513.75,"d":30.57,"v":900},{"t":526.25,"d":30.57,"v":900},{"t":531.25,"d":30.57,"v":900},{"t":538.75,"d":30.57,"v":1000},{"t":553.75,"d":30.57,"v":800},{"t":558.75,"d":30.57,"v":1000},{"t":566.25,"d":30.57,"v":5800},{"t":568.75,"d":30.57,"v":3700},{"t":571.25,"d":30.57,"v":2500},{"t":578.75,"d":30.57,"v":1200},{"t":581.25,"d":30.57,"v":1200},{"t":596.25,"d":30.57,"v":900},{"t":601.25,"d":30.57,"v":1100},{"t":603.75,"d":30.57,"v":1100},{"t":608.75,"d":30.57,"v":900},{"t":618.75,"d":30.57,"v":1500},{"t":631.25,"d":30.57,"v":4800},{"t":646.25,"d":30.57,"v":1100},{"t":651.25,"d":30.57,"v":1200},{"t":656.25,"d":30.57,"v":1100},{"t":666.25,"d":30.57,"v":1100},{"t":681.25,"d":30.57,"v":1000},{"t":748.75,"d":30.57,"v":1000},{"t":756.25,"d":30.57,"v":1000},
{"t":381.25,"d":31.69,"v":900},{"t":393.75,"d":31.69,"v":3300},{"t":396.25,"d":31.69,"v":3700},{"t":398.75,"d":31.69,"v":4400},{"t":401.25,"d":31.69,"v":4400},{"t":403.75,"d":31.69,"v":5600},{"t":406.25,"d":31.69,"v":5600},{"t":408.75,"d":31.69,"v":3400},{"t":413.75,"d":31.69,"v":6000},{"t":416.25,"d":31.69,"v":2300},{"t":418.75,"d":31.69,"v":1900},{"t":421.25,"d":31.69,"v":1900},{"t":433.75,"d":31.69,"v":900},{"t":438.75,"d":31.69,"v":700},{"t":448.75,"d":31.69,"v":900},{"t":516.25,"d":31.69,"v":1000},{"t":521.25,"d":31.69,"v":1100},{"t":523.75,"d":31.69,"v":1100},{"t":526.25,"d":31.69,"v":1100},{"t":548.75,"d":31.69,"v":2500},{"t":551.25,"d":31.69,"v":1200},{"t":558.75,"d":31.69,"v":2500},{"t":563.75,"d":31.69,"v":2800},{"t":566.25,"d":31.69,"v":1100},{"t":578.75,"d":31.69,"v":2500},{"t":583.75,"d":31.69,"v":900},{"t":591.25,"d":31.69,"v":2200},{"t":601.25,"d":31.69,"v":5900},{"t":611.25,"d":31.69,"v":5600},{"t":616.25,"d":31.69,"v":2000},{"t":623.75,"d":31.69,"v":2500},{"t":628.75,"d":31.69,"v":1300},{"t":636.25,"d":31.69,"v":1800},{"t":641.25,"d":31.69,"v":1200},{"t":643.75,"d":31.69,"v":1200},{"t":646.25,"d":31.69,"v":1100},{"t":651.25,"d":31.69,"v":1100},{"t":671.25,"d":31.69,"v":1000},{"t":681.25,"d":31.69,"v":2000},{"t":683.75,"d":31.69,"v":2000},{"t":688.75,"d":31.69,"v":1000},{"t":703.75,"d":31.69,"v":1000},{"t":713.75,"d":31.69,"v":1000},{"t":716.25,"d":31.69,"v":1000},{"t":731.25,"d":31.69,"v":3300},{"t":736.25,"d":31.69,"v":1800},{"t":741.25,"d":31.69,"v":1100},{"t":781.25,"d":31.69,"v":800},{"t":818.75,"d":31.69,"v":1100},{"t":858.75,"d":31.69,"v":1100},{"t":888.75,"d":31.69,"v":1100},{"t":923.75,"d":31.69,"v":1100},
{"t":401.25,"d":32.85,"v":900},{"t":408.75,"d":32.85,"v":900},{"t":416.25,"d":32.85,"v":1800},{"t":418.75,"d":32.85,"v":4800},{"t":421.25,"d":32.85,"v":600},{"t":423.75,"d":32.85,"v":9000},{"t":428.75,"d":32.85,"v":3700},{"t":433.75,"d":32.85,"v":5300},{"t":438.75,"d":32.85,"v":1000},{"t":441.25,"d":32.85,"v":1000},{"t":446.25,"d":32.85,"v":1500},{"t":451.25,"d":32.85,"v":1000},{"t":456.25,"d":32.85,"v":1200},{"t":458.75,"d":32.85,"v":1200},{"t":533.75,"d":32.85,"v":700},{"t":538.75,"d":32.85,"v":1100},{"t":561.25,"d":32.85,"v":2400},{"t":563.75,"d":32.85,"v":1200},{"t":568.75,"d":32.85,"v":1200},{"t":573.75,"d":32.85,"v":2400},{"t":578.75,"d":32.85,"v":2000},{"t":591.25,"d":32.85,"v":2400},{"t":596.25,"d":32.85,"v":1000},{"t":598.75,"d":32.85,"v":2800},{"t":618.75,"d":32.85,"v":2200},{"t":623.75,"d":32.85,"v":1000},{"t":628.75,"d":32.85,"v":1000},{"t":638.75,"d":32.85,"v":1200},{"t":641.25,"d":32.85,"v":1200},{"t":643.75,"d":32.85,"v":1200},{"t":646.25,"d":32.85,"v":1200},{"t":648.75,"d":32.85,"v":1200},{"t":651.25,"d":32.85,"v":1200},{"t":671.25,"d":32.85,"v":1000},{"t":683.75,"d":32.85,"v":1000},{"t":696.25,"d":32.85,"v":900},{"t":703.75,"d":32.85,"v":900},{"t":713.75,"d":32.85,"v":1100},{"t":716.25,"d":32.85,"v":1100},{"t":728.75,"d":32.85,"v":900},{"t":738.75,"d":32.85,"v":900},{"t":746.25,"d":32.85,"v":900},{"t":781.25,"d":32.85,"v":800},{"t":808.75,"d":32.85,"v":1200},{"t":811.25,"d":32.85,"v":1200},{"t":851.25,"d":32.85,"v":800},{"t":951.25,"d":32.85,"v":1000},
{"t":403.75,"d":34.05,"v":800},{"t":413.75,"d":34.05,"v":800},{"t":416.25,"d":34.05,"v":2200},{"t":421.25,"d":34.05,"v":3900},{"t":423.75,"d":34.05,"v":900},{"t":428.75,"d":34.05,"v":7600},{"t":431.25,"d":34.05,"v":3700},{"t":433.75,"d":34.05,"v":2500},{"t":436.25,"d":34.05,"v":3000},{"t":438.75,"d":34.05,"v":3000},{"t":441.25,"d":34.05,"v":4600},{"t":443.75,"d":34.05,"v":900},{"t":446.25,"d":34.05,"v":1100},{"t":448.75,"d":34.05,"v":2400},{"t":456.25,"d":34.05,"v":1100},{"t":458.75,"d":34.05,"v":1100},{"t":536.25,"d":34.05,"v":800},{"t":571.25,"d":34.05,"v":1100},{"t":578.75,"d":34.05,"v":900},{"t":581.25,"d":34.05,"v":800},{"t":586.25,"d":34.05,"v":900},{"t":593.75,"d":34.05,"v":900},{"t":598.75,"d":34.05,"v":800},{"t":603.75,"d":34.05,"v":2200},{"t":613.75,"d":34.05,"v":2300},{"t":618.75,"d":34.05,"v":700},{"t":626.25,"d":34.05,"v":900},{"t":631.25,"d":34.05,"v":1000},{"t":643.75,"d":34.05,"v":3300},{"t":666.25,"d":34.05,"v":3000},{"t":673.75,"d":34.05,"v":1000},{"t":683.75,"d":34.05,"v":1100},{"t":686.25,"d":34.05,"v":1100},{"t":691.25,"d":34.05,"v":900},{"t":711.25,"d":34.05,"v":900},{"t":716.25,"d":34.05,"v":900},{"t":721.25,"d":34.05,"v":800},{"t":743.75,"d":34.05,"v":900},{"t":793.75,"d":34.05,"v":1000},{"t":811.25,"d":34.05,"v":700},{"t":831.25,"d":34.05,"v":900},{"t":851.25,"d":34.05,"v":900},{"t":891.25,"d":34.05,"v":900},
{"t":273.75,"d":35.3,"v":900},{"t":343.75,"d":35.3,"v":1000},{"t":413.75,"d":35.3,"v":900},{"t":423.75,"d":35.3,"v":900},{"t":428.75,"d":35.3,"v":900},{"t":433.75,"d":35.3,"v":3800},{"t":436.25,"d":35.3,"v":1100},{"t":438.75,"d":35.3,"v":1100},{"t":441.25,"d":35.3,"v":3600},{"t":443.75,"d":35.3,"v":4500},{"t":446.25,"d":35.3,"v":4500},{"t":453.75,"d":35.3,"v":3800},{"t":456.25,"d":35.3,"v":3800},{"t":458.75,"d":35.3,"v":3800},{"t":466.25,"d":35.3,"v":900},{"t":473.75,"d":35.3,"v":1900},{"t":488.75,"d":35.3,"v":700},{"t":566.25,"d":35.3,"v":800},{"t":571.25,"d":35.3,"v":2000},{"t":591.25,"d":35.3,"v":900},{"t":596.25,"d":35.3,"v":1000},{"t":601.25,"d":35.3,"v":1100},{"t":603.75,"d":35.3,"v":1100},{"t":621.25,"d":35.3,"v":1500},{"t":623.75,"d":35.3,"v":1500},{"t":628.75,"d":35.3,"v":5200},{"t":641.25,"d":35.3,"v":1800},{"t":643.75,"d":35.3,"v":1800},{"t":648.75,"d":35.3,"v":1500},{"t":651.25,"d":35.3,"v":1500},{"t":666.25,"d":35.3,"v":1000},{"t":668.75,"d":35.3,"v":1000},{"t":678.75,"d":35.3,"v":900},{"t":683.75,"d":35.3,"v":900},{"t":693.75,"d":35.3,"v":900},{"t":706.25,"d":35.3,"v":900},{"t":721.25,"d":35.3,"v":900},{"t":733.75,"d":35.3,"v":700},{"t":746.25,"d":35.3,"v":1000},{"t":748.75,"d":35.3,"v":1000},{"t":771.25,"d":35.3,"v":1100},{"t":773.75,"d":35.3,"v":1100},{"t":781.25,"d":35.3,"v":900},{"t":791.25,"d":35.3,"v":1000},{"t":816.25,"d":35.3,"v":900},{"t":936.25,"d":35.3,"v":900},
{"t":426.25,"d":36.59,"v":900},{"t":431.25,"d":36.59,"v":1100},{"t":433.75,"d":36.59,"v":1100},{"t":436.25,"d":36.59,"v":1100},{"t":441.25,"d":36.59,"v":1000},{"t":443.75,"d":36.59,"v":2300},{"t":446.25,"d":36.59,"v":2300},{"t":448.75,"d":36.59,"v":2300},{"t":451.25,"d":36.59,"v":2300},{"t":456.25,"d":36.59,"v":3600},{"t":458.75,"d":36.59,"v":4700},{"t":461.25,"d":36.59,"v":1000},{"t":463.75,"d":36.59,"v":8000},{"t":466.25,"d":36.59,"v":1100},{"t":468.75,"d":36.59,"v":1300},{"t":471.25,"d":36.59,"v":1300},{"t":473.75,"d":36.59,"v":3700},{"t":478.75,"d":36.59,"v":2000},{"t":488.75,"d":36.59,"v":2700},{"t":493.75,"d":36.59,"v":1000},{"t":578.75,"d":36.59,"v":900},{"t":608.75,"d":36.59,"v":700},{"t":616.25,"d":36.59,"v":900},{"t":621.25,"d":36.59,"v":600},{"t":636.25,"d":36.59,"v":1000},{"t":641.25,"d":36.59,"v":1000},{"t":646.25,"d":36.59,"v":900},{"t":668.75,"d":36.59,"v":1000},{"t":671.25,"d":36.59,"v":1000},{"t":683.75,"d":36.59,"v":1000},{"t":686.25,"d":36.59,"v":1000},{"t":701.25,"d":36.59,"v":800},{"t":723.75,"d":36.59,"v":1000},{"t":726.25,"d":36.59,"v":1000},{"t":733.75,"d":36.59,"v":800},{"t":743.75,"d":36.59,"v":800},{"t":756.25,"d":36.59,"v":2500},{"t":786.25,"d":36.59,"v":700},{"t":796.25,"d":36.59,"v":700},{"t":808.75,"d":36.59,"v":700},{"t":823.75,"d":36.59,"v":900},{"t":898.75,"d":36.59,"v":900},{"t":921.25,"d":36.59,"v":900},{"t":988.75,"d":36.59,"v":500},
{"t":216.25,"d":37.93,"v":5600},{"t":441.25,"d":37.93,"v":2000},{"t":443.75,"d":37.93,"v":2000},{"t":448.75,"d":37.93,"v":3700},{"t":453.75,"d":37.93,"v":2500},{"t":458.75,"d":37.93,"v":1100},{"t":461.25,"d":37.93,"v":6900},{"t":463.75,"d":37.93,"v":5000},{"t":466.25,"d":37.93,"v":8800},{"t":468.75,"d":37.93,"v":1400},{"t":471.25,"d":37.93,"v":3600},{"t":473.75,"d":37.93,"v":2400},{"t":478.75,"d":37.93,"v":1000},{"t":483.75,"d":37.93,"v":1000},{"t":488.75,"d":37.93,"v":2200},{"t":491.25,"d":37.93,"v":2200},{"t":498.75,"d":37.93,"v":1100},{"t":501.25,"d":37.93,"v":1100},{"t":503.75,"d":37.93,"v":1100},{"t":506.25,"d":37.93,"v":1100},{"t":508.75,"d":37.93,"v":1100},{"t":516.25,"d":37.93,"v":1000},{"t":523.75,"d":37.93,"v":1000},{"t":613.75,"d":37.93,"v":1000},{"t":626.25,"d":37.93,"v":3700},{"t":631.25,"d":37.93,"v":2300},{"t":641.25,"d":37.93,"v":900},{"t":648.75,"d":37.93,"v":1000},{"t":671.25,"d":37.93,"v":2300},{"t":681.25,"d":37.93,"v":900},{"t":688.75,"d":37.93,"v":1000},{"t":696.25,"d":37.93,"v":1000},{"t":703.75,"d":37.93,"v":1000},{"t":708.75,"d":37.93,"v":1000},{"t":713.75,"d":37.93,"v":1000},{"t":716.25,"d":37.93,"v":2300},{"t":726.25,"d":37.93,"v":900},{"t":736.25,"d":37.93,"v":1300},{"t":756.25,"d":37.93,"v":1100},{"t":758.75,"d":37.93,"v":1100},{"t":763.75,"d":37.93,"v":800},{"t":773.75,"d":37.93,"v":800},{"t":796.25,"d":37.93,"v":800},{"t":826.25,"d":37.93,"v":800},{"t":866.25,"d":37.93,"v":1100},{"t":868.75,"d":37.93,"v":1100},{"t":893.75,"d":37.93,"v":900},{"t":906.25,"d":37.93,"v":900},{"t":941.25,"d":37.93,"v":900},{"t":988.75,"d":37.93,"v":500},
{"t":8.75,"d":39.32,"v":1100},{"t":23.75,"d":39.32,"v":1100},{"t":441.25,"d":39.32,"v":900},{"t":448.75,"d":39.32,"v":1100},{"t":451.25,"d":39.32,"v":1100},{"t":458.75,"d":39.32,"v":700},{"t":461.25,"d":39.32,"v":1000},{"t":463.75,"d":39.32,"v":1000},{"t":466.25,"d":39.32,"v":1000},{"t":468.75,"d":39.32,"v":1000},{"t":471.25,"d":39.32,"v":1000},{"t":473.75,"d":39.32,"v":1000},{"t":476.25,"d":39.32,"v":1000},{"t":478.75,"d":39.32,"v":1500},{"t":483.75,"d":39.32,"v":3000},{"t":486.25,"d":39.32,"v":3000},{"t":488.75,"d":39.32,"v":3000},{"t":491.25,"d":39.32,"v":3000},{"t":496.25,"d":39.32,"v":5000},{"t":498.75,"d":39.32,"v":1100},{"t":501.25,"d":39.32,"v":3300},{"t":506.25,"d":39.32,"v":1000},{"t":508.75,"d":39.32,"v":1000},{"t":516.25,"d":39.32,"v":1100},{"t":518.75,"d":39.32,"v":1100},{"t":521.25,"d":39.32,"v":1100},{"t":523.75,"d":39.32,"v":1300},{"t":556.25,"d":39.32,"v":700},{"t":648.75,"d":39.32,"v":1000},{"t":678.75,"d":39.32,"v":1000},{"t":683.75,"d":39.32,"v":1000},{"t":693.75,"d":39.32,"v":1000},{"t":736.25,"d":39.32,"v":1000},{"t":741.25,"d":39.32,"v":2200},{"t":748.75,"d":39.32,"v":900},{"t":773.75,"d":39.32,"v":800},{"t":781.25,"d":39.32,"v":1000},{"t":791.25,"d":39.32,"v":800},{"t":806.25,"d":39.32,"v":800},{"t":813.75,"d":39.32,"v":1300},{"t":816.25,"d":39.32,"v":1300},{"t":828.75,"d":39.32,"v":1000},{"t":843.75,"d":39.32,"v":800},{"t":848.75,"d":39.32,"v":800},{"t":883.75,"d":39.32,"v":800},
{"t":421.25,"d":40.76,"v":900},{"t":436.25,"d":40.76,"v":900},{"t":463.75,"d":40.76,"v":2000},{"t":466.25,"d":40.76,"v":900},{"t":471.25,"d":40.76,"v":1900},{"t":473.75,"d":40.76,"v":1900},{"t":486.25,"d":40.76,"v":1000},{"t":488.75,"d":40.76,"v":1300},{"t":491.25,"d":40.76,"v":3500},{"t":493.75,"d":40.76,"v":1600},{"t":496.25,"d":40.76,"v":3000},{"t":498.75,"d":40.76,"v":4600},{"t":501.25,"d":40.76,"v":2500},{"t":503.75,"d":40.76,"v":5400},{"t":506.25,"d":40.76,"v":3500},{"t":508.75,"d":40.76,"v":3800},{"t":511.25,"d":40.76,"v":4300},{"t":516.25,"d":40.76,"v":1100},{"t":518.75,"d":40.76,"v":1100},{"t":521.25,"d":40.76,"v":1100},{"t":523.75,"d":40.76,"v":1100},{"t":526.25,"d":40.76,"v":1000},{"t":528.75,"d":40.76,"v":1000},{"t":531.25,"d":40.76,"v":1000},{"t":533.75,"d":40.76,"v":1000},{"t":536.25,"d":40.76,"v":1000},{"t":538.75,"d":40.76,"v":1000},{"t":553.75,"d":40.76,"v":900},{"t":556.25,"d":40.76,"v":900},{"t":561.25,"d":40.76,"v":900},{"t":563.75,"d":40.76,"v":900},{"t":566.25,"d":40.76,"v":900},{"t":698.75,"d":40.76,"v":1000},{"t":711.25,"d":40.76,"v":1000},{"t":726.25,"d":40.76,"v":1000},{"t":746.25,"d":40.76,"v":1300},{"t":748.75,"d":40.76,"v":1300},{"t":806.25,"d":40.76,"v":2200},{"t":821.25,"d":40.76,"v":1300},{"t":823.75,"d":40.76,"v":1300},{"t":863.75,"d":40.76,"v":1200},{"t":936.25,"d":40.76,"v":1100},{"t":938.75,"d":40.76,"v":1100},{"t":978.75,"d":40.76,"v":1000},
{"t":476.25,"d":42.25,"v":700},{"t":481.25,"d":42.25,"v":1900},{"t":491.25,"d":42.25,"v":3300},{"t":496.25,"d":42.25,"v":1100},{"t":501.25,"d":42.25,"v":4400},{"t":506.25,"d":42.25,"v":1200},{"t":511.25,"d":42.25,"v":2000},{"t":516.25,"d":42.25,"v":5500},{"t":521.25,"d":42.25,"v":1600},{"t":526.25,"d":42.25,"v":2400},{"t":528.75,"d":42.25,"v":2000},{"t":531.25,"d":42.25,"v":2000},{"t":533.75,"d":42.25,"v":2000},{"t":536.25,"d":42.25,"v":2000},{"t":548.75,"d":42.25,"v":1500},{"t":551.25,"d":42.25,"v":1500},{"t":566.25,"d":42.25,"v":800},{"t":593.75,"d":42.25,"v":700},{"t":786.25,"d":42.25,"v":900},{"t":941.25,"d":42.25,"v":900},
{"t":38.75,"d":43.8,"v":1100},{"t":508.75,"d":43.8,"v":1100},{"t":511.25,"d":43.8,"v":1100},{"t":513.75,"d":43.8,"v":1100},{"t":523.75,"d":43.8,"v":1200},{"t":528.75,"d":43.8,"v":3900},{"t":531.25,"d":43.8,"v":2300},{"t":533.75,"d":43.8,"v":2300},{"t":538.75,"d":43.8,"v":2200},{"t":541.25,"d":43.8,"v":2200},{"t":546.25,"d":43.8,"v":3900},{"t":551.25,"d":43.8,"v":4800},{"t":556.25,"d":43.8,"v":2000},{"t":558.75,"d":43.8,"v":1300},{"t":563.75,"d":43.8,"v":1500},{"t":566.25,"d":43.8,"v":1000},{"t":568.75,"d":43.8,"v":1000},{"t":571.25,"d":43.8,"v":1000},{"t":576.25,"d":43.8,"v":1300},{"t":581.25,"d":43.8,"v":1000},{"t":586.25,"d":43.8,"v":1200},{"t":593.75,"d":43.8,"v":1100},{"t":596.25,"d":43.8,"v":1100},{"t":598.75,"d":43.8,"v":800},{"t":636.25,"d":43.8,"v":900},{"t":666.25,"d":43.8,"v":900},{"t":753.75,"d":43.8,"v":900},{"t":776.25,"d":43.8,"v":900},{"t":866.25,"d":43.8,"v":800},{"t":883.75,"d":43.8,"v":800},
{"t":516.25,"d":45.41,"v":500},{"t":523.75,"d":45.41,"v":900},{"t":526.25,"d":45.41,"v":900},{"t":528.75,"d":45.41,"v":900},{"t":531.25,"d":45.41,"v":900},{"t":533.75,"d":45.41,"v":900},{"t":538.75,"d":45.41,"v":2200},{"t":541.25,"d":45.41,"v":1000},{"t":543.75,"d":45.41,"v":1100},{"t":546.25,"d":45.41,"v":1100},{"t":548.75,"d":45.41,"v":1100},{"t":551.25,"d":45.41,"v":1300},{"t":553.75,"d":45.41,"v":1100},{"t":556.25,"d":45.41,"v":1100},{"t":558.75,"d":45.41,"v":1800},{"t":561.25,"d":45.41,"v":2900},{"t":563.75,"d":45.41,"v":3300},{"t":566.25,"d":45.41,"v":1100},{"t":568.75,"d":45.41,"v":2400},{"t":571.25,"d":45.41,"v":1100},{"t":573.75,"d":45.41,"v":2800},{"t":578.75,"d":45.41,"v":3400},{"t":581.25,"d":45.41,"v":3400},{"t":583.75,"d":45.41,"v":1700},{"t":586.25,"d":45.41,"v":1700},{"t":591.25,"d":45.41,"v":1000},{"t":596.25,"d":45.41,"v":2400},{"t":598.75,"d":45.41,"v":1000},{"t":603.75,"d":45.41,"v":2200},{"t":606.25,"d":45.41,"v":2200},{"t":611.25,"d":45.41,"v":600},{"t":623.75,"d":45.41,"v":500},{"t":638.75,"d":45.41,"v":900},
{"t":516.25,"d":47.07,"v":600},{"t":538.75,"d":47.07,"v":800},{"t":546.25,"d":47.07,"v":800},{"t":551.25,"d":47.07,"v":1000},{"t":558.75,"d":47.07,"v":800},{"t":566.25,"d":47.07,"v":1700},{"t":568.75,"d":47.07,"v":1500},{"t":573.75,"d":47.07,"v":1000},{"t":578.75,"d":47.07,"v":700},{"t":581.25,"d":47.07,"v":700},{"t":583.75,"d":47.07,"v":700},{"t":586.25,"d":47.07,"v":4000},{"t":588.75,"d":47.07,"v":1000},{"t":593.75,"d":47.07,"v":1100},{"t":596.25,"d":47.07,"v":1100},{"t":601.25,"d":47.07,"v":2000},{"t":603.75,"d":47.07,"v":1600},{"t":606.25,"d":47.07,"v":1100},{"t":608.75,"d":47.07,"v":1100},{"t":616.25,"d":47.07,"v":2000},{"t":618.75,"d":47.07,"v":2400},{"t":621.25,"d":47.07,"v":3300},{"t":626.25,"d":47.07,"v":1200},{"t":638.75,"d":47.07,"v":900},{"t":648.75,"d":47.07,"v":1000},{"t":651.25,"d":47.07,"v":1000},{"t":653.75,"d":47.07,"v":1000},{"t":656.25,"d":47.07,"v":1000},{"t":661.25,"d":47.07,"v":1000},{"t":701.25,"d":47.07,"v":800},
{"t":353.75,"d":48.8,"v":800},{"t":501.25,"d":48.8,"v":700},{"t":533.75,"d":48.8,"v":600},{"t":561.25,"d":48.8,"v":800},{"t":576.25,"d":48.8,"v":800},{"t":586.25,"d":48.8,"v":800},{"t":591.25,"d":48.8,"v":900},{"t":598.75,"d":48.8,"v":1900},{"t":601.25,"d":48.8,"v":1000},{"t":603.75,"d":48.8,"v":1000},{"t":606.25,"d":48.8,"v":1000},{"t":608.75,"d":48.8,"v":1000},{"t":611.25,"d":48.8,"v":1000},{"t":613.75,"d":48.8,"v":1000},{"t":616.25,"d":48.8,"v":2000},{"t":618.75,"d":48.8,"v":2400},{"t":626.25,"d":48.8,"v":900},{"t":631.25,"d":48.8,"v":1500},{"t":648.75,"d":48.8,"v":2000},{"t":651.25,"d":48.8,"v":2000},{"t":661.25,"d":48.8,"v":1000},{"t":663.75,"d":48.8,"v":1000},{"t":673.75,"d":48.8,"v":1700},{"t":678.75,"d":48.8,"v":1000},{"t":686.25,"d":48.8,"v":1700},{"t":691.25,"d":48.8,"v":1200},{"t":696.25,"d":48.8,"v":1200},{"t":716.25,"d":48.8,"v":800},{"t":726.25,"d":48.8,"v":800},{"t":736.25,"d":48.8,"v":900},{"t":738.75,"d":48.8,"v":900},{"t":741.25,"d":48.8,"v":900},{"t":743.75,"d":48.8,"v":900},{"t":758.75,"d":48.8,"v":1100},{"t":761.25,"d":48.8,"v":1100},{"t":781.25,"d":48.8,"v":800},{"t":813.75,"d":48.8,"v":800},{"t":896.25,"d":48.8,"v":800},{"t":923.75,"d":48.8,"v":800},{"t":958.75,"d":48.8,"v":800},
{"t":578.75,"d":50.58,"v":700},{"t":606.25,"d":50.58,"v":1000},{"t":608.75,"d":50.58,"v":1000},{"t":613.75,"d":50.58,"v":1100},{"t":616.25,"d":50.58,"v":1100},{"t":621.25,"d":50.58,"v":1000},{"t":623.75,"d":50.58,"v":1000},{"t":626.25,"d":50.58,"v":1000},{"t":653.75,"d":50.58,"v":800},{"t":658.75,"d":50.58,"v":800},{"t":663.75,"d":50.58,"v":1000},{"t":666.25,"d":50.58,"v":1000},{"t":673.75,"d":50.58,"v":1200},{"t":676.25,"d":50.58,"v":2000},{"t":678.75,"d":50.58,"v":2000},{"t":681.25,"d":50.58,"v":2000},{"t":693.75,"d":50.58,"v":1100},{"t":701.25,"d":50.58,"v":800},{"t":711.25,"d":50.58,"v":800},{"t":716.25,"d":50.58,"v":3000},{"t":723.75,"d":50.58,"v":1200},{"t":726.25,"d":50.58,"v":1100},{"t":731.25,"d":50.58,"v":1400},{"t":743.75,"d":50.58,"v":1800},{"t":746.25,"d":50.58,"v":1800},{"t":748.75,"d":50.58,"v":1800},{"t":753.75,"d":50.58,"v":1100},{"t":763.75,"d":50.58,"v":800},{"t":768.75,"d":50.58,"v":1100},{"t":788.75,"d":50.58,"v":800},{"t":798.75,"d":50.58,"v":1500},{"t":801.25,"d":50.58,"v":1500},{"t":816.25,"d":50.58,"v":800},{"t":833.75,"d":50.58,"v":800},{"t":851.25,"d":50.58,"v":800},{"t":883.75,"d":50.58,"v":800},{"t":888.75,"d":50.58,"v":800},{"t":916.25,"d":50.58,"v":900},{"t":923.75,"d":50.58,"v":900},{"t":981.25,"d":50.58,"v":800},{"t":986.25,"d":50.58,"v":800},{"t":993.75,"d":50.58,"v":800},
{"t":311.25,"d":52.44,"v":800},{"t":448.75,"d":52.44,"v":700},{"t":591.25,"d":52.44,"v":600},{"t":613.75,"d":52.44,"v":500},{"t":623.75,"d":52.44,"v":600},{"t":648.75,"d":52.44,"v":800},{"t":673.75,"d":52.44,"v":1400},{"t":678.75,"d":52.44,"v":2000},{"t":681.25,"d":52.44,"v":2000},{"t":688.75,"d":52.44,"v":800},{"t":696.25,"d":52.44,"v":2800},{"t":698.75,"d":52.44,"v":2800},{"t":711.25,"d":52.44,"v":800},{"t":716.25,"d":52.44,"v":1000},{"t":723.75,"d":52.44,"v":1500},{"t":726.25,"d":52.44,"v":1500},{"t":733.75,"d":52.44,"v":2000},{"t":736.25,"d":52.44,"v":2000},{"t":741.25,"d":52.44,"v":800},{"t":743.75,"d":52.44,"v":3000},{"t":748.75,"d":52.44,"v":1500},{"t":763.75,"d":52.44,"v":900},{"t":768.75,"d":52.44,"v":2000},{"t":791.25,"d":52.44,"v":1500},{"t":798.75,"d":52.44,"v":1000},{"t":801.25,"d":52.44,"v":1000},{"t":806.25,"d":52.44,"v":1400},{"t":821.25,"d":52.44,"v":1400},{"t":826.25,"d":52.44,"v":1500},{"t":841.25,"d":52.44,"v":1700},{"t":853.75,"d":52.44,"v":1200},{"t":856.25,"d":52.44,"v":1200},{"t":881.25,"d":52.44,"v":800},{"t":951.25,"d":52.44,"v":800},{"t":958.75,"d":52.44,"v":800},{"t":998.75,"d":52.44,"v":1000},
{"t":171.25,"d":54.36,"v":800},{"t":401.25,"d":54.36,"v":700},{"t":546.25,"d":54.36,"v":600},{"t":648.75,"d":54.36,"v":700},{"t":668.75,"d":54.36,"v":800},{"t":673.75,"d":54.36,"v":800},{"t":696.25,"d":54.36,"v":700},{"t":718.75,"d":54.36,"v":800},{"t":731.25,"d":54.36,"v":1200},{"t":733.75,"d":54.36,"v":1200},{"t":758.75,"d":54.36,"v":700},{"t":773.75,"d":54.36,"v":800},{"t":783.75,"d":54.36,"v":800},{"t":803.75,"d":54.36,"v":2200},{"t":811.25,"d":54.36,"v":1000},{"t":818.75,"d":54.36,"v":1200},{"t":821.25,"d":54.36,"v":1200},{"t":826.25,"d":54.36,"v":900},{"t":843.75,"d":54.36,"v":1800},{"t":846.25,"d":54.36,"v":1800},{"t":883.75,"d":54.36,"v":900},{"t":901.25,"d":54.36,"v":1100},{"t":913.75,"d":54.36,"v":1400},{"t":916.25,"d":54.36,"v":1400},{"t":926.25,"d":54.36,"v":800},{"t":946.25,"d":54.36,"v":900},{"t":963.75,"d":54.36,"v":1000},
{"t":236.25,"d":56.35,"v":900},{"t":263.75,"d":56.35,"v":900},{"t":503.75,"d":56.35,"v":600},{"t":596.25,"d":56.35,"v":600},{"t":611.25,"d":56.35,"v":600},{"t":613.75,"d":56.35,"v":600},{"t":656.25,"d":56.35,"v":600},{"t":668.75,"d":56.35,"v":600},{"t":691.25,"d":56.35,"v":600},{"t":736.25,"d":56.35,"v":600},{"t":821.25,"d":56.35,"v":600},{"t":981.25,"d":56.35,"v":500},
{"t":406.25,"d":58.41,"v":600},{"t":578.75,"d":58.41,"v":500},{"t":168.75,"d":60.55,"v":900},{"t":673.75,"d":60.55,"v":500},
{"t":48.75,"d":62.77,"v":1000},{"t":58.75,"d":62.77,"v":1000},{"t":68.75,"d":62.77,"v":1000},{"t":143.75,"d":65.07,"v":1000},{"t":338.75,"d":65.07,"v":800},{"t":28.75,"d":69.92,"v":1000},{"t":313.75,"d":69.92,"v":1000},{"t":313.75,"d":72.48,"v":1000},{"t":191.25,"d":72.48,"v":1000},{"t":173.75,"d":75.13,"v":800},{"t":173.75,"d":77.88,"v":800},{"t":13.75,"d":80.73,"v":900},{"t":268.75,"d":80.73,"v":900},{"t":18.75,"d":86.76,"v":900},{"t":66.25,"d":86.76,"v":900},{"t":88.75,"d":86.76,"v":900},{"t":311.25,"d":86.76,"v":900},{"t":991.25,"d":89.93,"v":700},{"t":111.25,"d":93.23,"v":900},{"t":141.25,"d":93.23,"v":900},{"t":36.25,"d":96.64,"v":800},{"t":986.25,"d":96.64,"v":700}
],"bar":[{"v":78},{"v":234},{"v":391},{"v":547},{"v":703},{"v":859},{"v":1016},{"v":1172},{"v":1328},{"v":1484},{"v":1641},{"v":1797},{"v":1953},{"v":2109},{"v":2266},{"v":2422},{"v":2578},{"v":2734},{"v":2891},{"v":3047},{"v":3203},{"v":3359},{"v":3516},{"v":3672},{"v":3828},{"v":3984},{"v":4141},{"v":4297},{"v":4453},{"v":4609},{"v":4766},{"v":4922},{"v":5078},{"v":5234},{"v":5391},{"v":5547},{"v":5703},{"v":5859},{"v":6016},{"v":6172},{"v":6328},{"v":6484},{"v":6641},{"v":6797},{"v":6953},{"v":7109},{"v":7266},{"v":7422},{"v":7578},{"v":7734},{"v":7891},{"v":8047},{"v":8203},{"v":8359},{"v":8516},{"v":8672},{"v":8828},{"v":8984},{"v":9141},{"v":9297},{"v":9453},{"v":9609},{"v":9766},{"v":9922}],"notes":[{"t":145,"d":84.5,"s":"ozone only"},{"t":145,"d":69.8,"s":"(dark)"},{"t":663,"d":84.5,"s":"ozone + OH radicals"},{"t":663,"d":69.8,"s":"(UV lights on)"}],"arrows":[{"t":0,"t2":300,"d":76.8},{"t":300,"t2":994,"d":76.8}],"heads":[{"t":11.4,"d":76.8,"o":"l"},{"t":288.6,"d":76.8,"o":"r"},{"t":311.4,"d":76.8,"o":"l"},{"t":982.6,"d":76.8,"o":"r"}],"split":[{"t":300,"d":10,"d2":100}]},"hconcat":[{"width":1716,"height":1036,"view":{"fill":"#00008F"},"layer":[{"data":{"name":"cells"},"mark":{"type":"rect","width":4.4,"height":16.3,"clip":true},"encoding":{"x":{"field":"t","type":"quantitative","scale":{"domain":[0,1000],"nice":false},"axis":{"title":"time / min","values":[0,200,400,600,800,1000],"format":"d","labelFontSize":55,"titleFontSize":60,"titleFontWeight":"normal","tickSize":18,"tickWidth":5,"tickColor":"#262626","domainColor":"#262626","domainWidth":4,"labelPadding":21,"titlePadding":11,"labelFlush":false}},"y":{"field":"d","type":"quantitative","scale":{"type":"log","domain":[10,100],"nice":false},"axis":{"title":"particle size / nm","values":[10,20,30,40,50,60,70,80,90],"labelExpr":"indexof([10,30,50,70,90],datum.value)>=0?datum.value:''","tickSize":{"condition":{"test":"indexof([10,30,50,70,90],datum.value)>=0","value":18},"value":10},"tickWidth":6,"tickColor":"#262626","domainColor":"#4d4d4d","domainWidth":3,"labelFontSize":55,"titleFontSize":60,"titleFontWeight":"normal","labelPadding":16,"titlePadding":7}},"color":{"field":"v","type":"quantitative","legend":null,"scale":{"type":"quantize","domain":[0,10000],"range":["#00008F","#00009F","#0000AF","#0000BF","#0000CF","#0000DF","#0000EF","#0000FF","#0010FF","#0020FF","#0030FF","#0040FF","#0050FF","#0060FF","#0070FF","#0080FF","#008FFF","#009FFF","#00AFFF","#00BFFF","#00CFFF","#00DFFF","#00EFFF","#00FFFF","#10FFEF","#20FFDF","#30FFCF","#40FFBF","#50FFAF","#60FF9F","#70FF8F","#80FF80","#8FFF70","#9FFF60","#AFFF50","#BFFF40","#CFFF30","#DFFF20","#EFFF10","#FFFF00","#FFEF00","#FFDF00","#FFCF00","#FFBF00","#FFAF00","#FF9F00","#FF8F00","#FF8000","#FF7000","#FF6000","#FF5000","#FF4000","#FF3000","#FF2000","#FF1000","#FF0000","#EF0000","#DF0000","#CF0000","#BF0000","#AF0000","#9F0000","#8F0000","#800000"]}}}},{"data":{"name":"split"},"mark":{"type":"rule","color":"white","strokeWidth":6,"strokeDash":[24,18.5],"strokeDashOffset":35.5},"encoding":{"x":{"field":"t","type":"quantitative"},"y":{"field":"d","type":"quantitative"},"y2":{"field":"d2"}}},{"data":{"name":"arrows"},"mark":{"type":"rule","color":"white","strokeWidth":6},"encoding":{"x":{"field":"t","type":"quantitative"},"x2":{"field":"t2"},"y":{"field":"d","type":"quantitative"}}},{"data":{"name":"heads"},"transform":[{"filter":"datum.o=='l'"}],"mark":{"type":"point","shape":"M1,-1L-1,0L1,1Z","size":1521,"filled":true,"color":"white","opacity":1},"encoding":{"x":{"field":"t","type":"quantitative"},"y":{"field":"d","type":"quantitative"}}},{"data":{"name":"heads"},"transform":[{"filter":"datum.o=='r'"}],"mark":{"type":"point","shape":"M-1,-1L1,0L-1,1Z","size":1521,"filled":true,"color":"white","opacity":1},"encoding":{"x":{"field":"t","type":"quantitative"},"y":{"field":"d","type":"quantitative"}}},{"data":{"name":"notes"},"mark":{"type":"text","font":"Liberation Sans","fontSize":48,"fontWeight":"bold","color":"white"},"encoding":{"x":{"field":"t","type":"quantitative"},"y":{"field":"d","type":"quantitative"},"text":{"field":"s"}}}]},{"width":62,"height":1036,"view":{"stroke":"#404040","strokeWidth":3},"data":{"name":"bar"},"mark":{"type":"rect","height":16.3},"encoding":{"y":{"field":"v","type":"quantitative","scale":{"domain":[0,10000],"nice":false},"axis":{"orient":"right","title":"dN/dlog(dp)","titleY":437,"values":[0,1000,2000,3000,4000,5000,6000,7000,8000,9000,10000],"format":"d","labelFontSize":49,"titleFontSize":54,"titleFontWeight":"normal","titleAngle":90,"tickSize":-10,"tickWidth":3,"tickColor":"#262626","domainColor":"#404040","domainWidth":3,"labelPadding":25,"titlePadding":8}},"color":{"field":"v","type":"quantitative","legend":null,"scale":{"type":"quantize","domain":[0,10000],"range":["#00008F","#00009F","#0000AF","#0000BF","#0000CF","#0000DF","#0000EF","#0000FF","#0010FF","#0020FF","#0030FF","#0040FF","#0050FF","#0060FF","#0070FF","#0080FF","#008FFF","#009FFF","#00AFFF","#00BFFF","#00CFFF","#00DFFF","#00EFFF","#00FFFF","#10FFEF","#20FFDF","#30FFCF","#40FFBF","#50FFAF","#60FF9F","#70FF8F","#80FF80","#8FFF70","#9FFF60","#AFFF50","#BFFF40","#CFFF30","#DFFF20","#EFFF10","#FFFF00","#FFEF00","#FFDF00","#FFCF00","#FFBF00","#FFAF00","#FF9F00","#FF8F00","#FF8000","#FF7000","#FF6000","#FF5000","#FF4000","#FF3000","#FF2000","#FF1000","#FF0000","#EF0000","#DF0000","#CF0000","#BF0000","#AF0000","#9F0000","#8F0000","#800000"]}}}}],"spacing":31,"resolve":{"scale":{"color":"independent"}}}
